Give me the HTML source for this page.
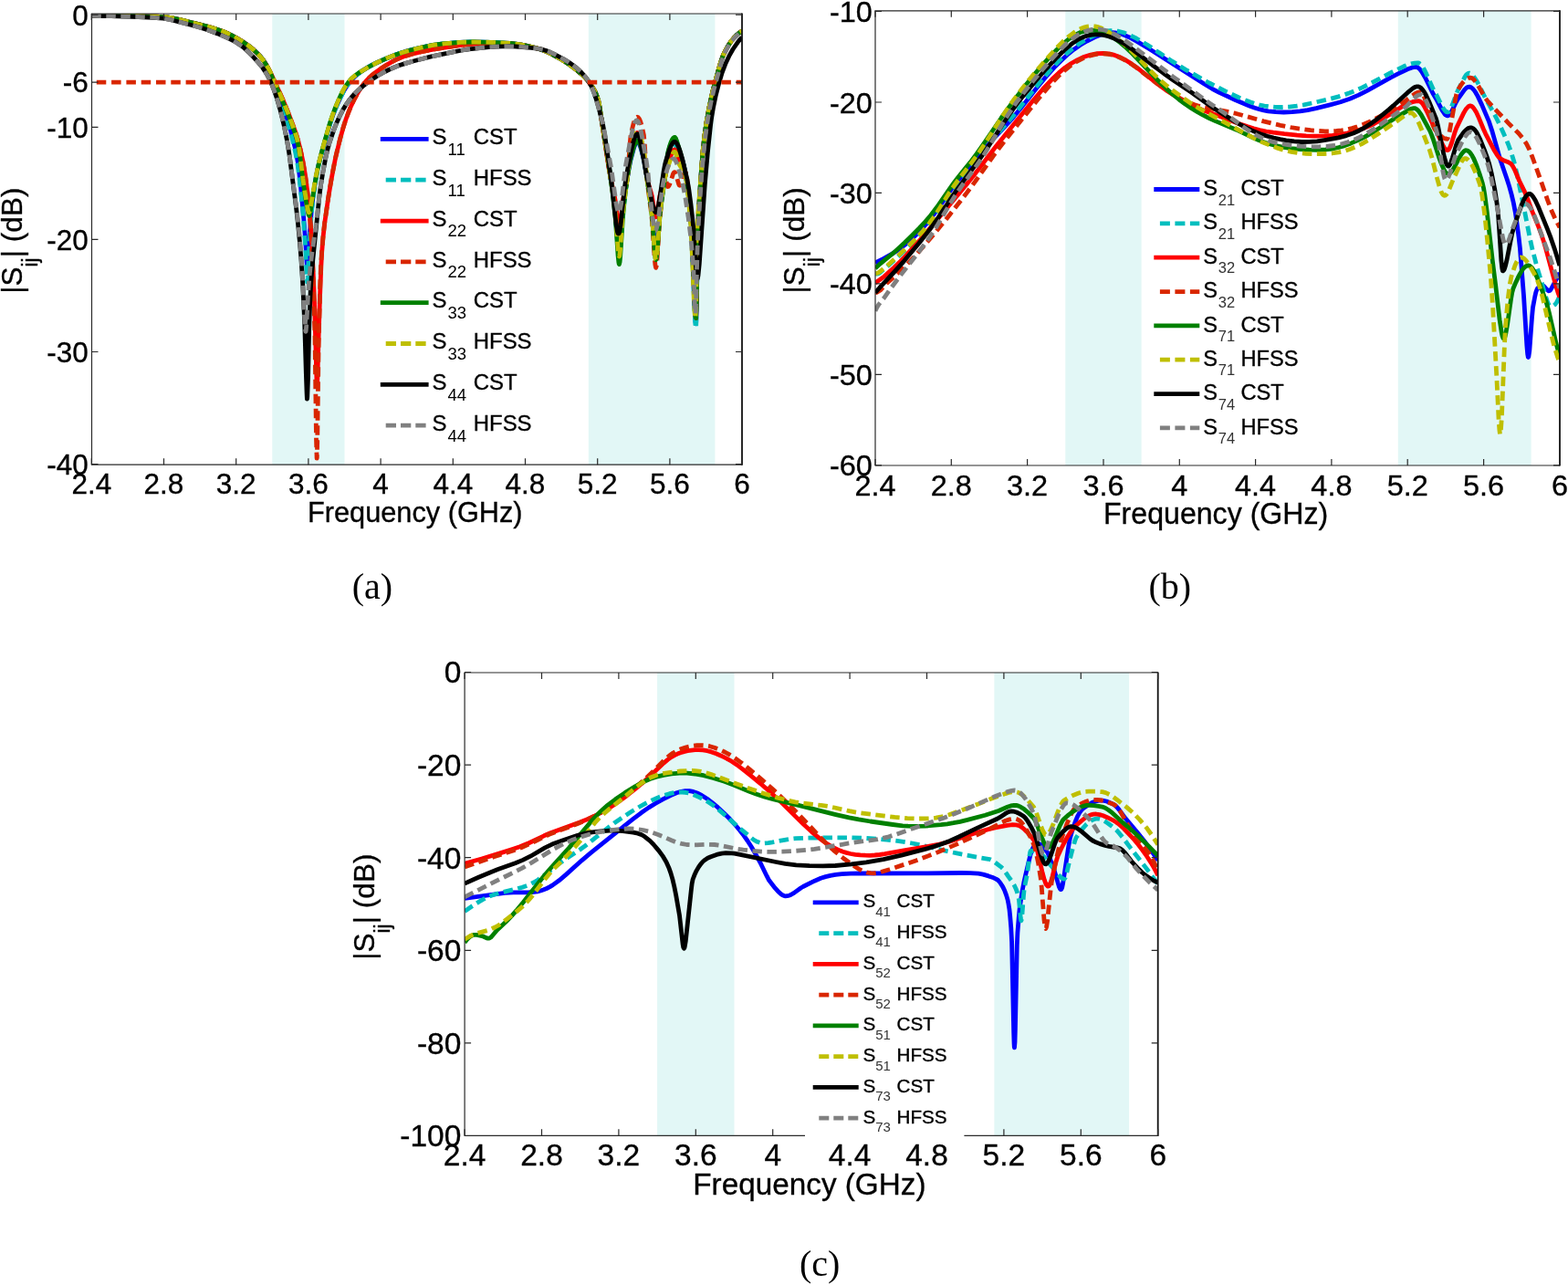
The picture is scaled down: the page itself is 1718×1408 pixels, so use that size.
<!DOCTYPE html><html><head><meta charset="utf-8"><style>html,body{margin:0;padding:0;background:#fff;width:1718px;height:1408px;overflow:hidden}svg{display:block}text{fill:#000;stroke:#000;stroke-width:0.35px}text.pl{stroke:none}</style></head><body>
<svg width="1718" height="1408" viewBox="0 0 1718 1408">
<rect width="1718" height="1408" fill="#fff"/>
<clipPath id="ca"><rect x="100.5" y="15.0" width="712.5" height="494.2"/></clipPath>
<rect x="298.3" y="15.0" width="79.2" height="494.2" fill="#E2F7F6"/>
<rect x="644.8" y="15.0" width="138.6" height="494.2" fill="#E2F7F6"/>
<g clip-path="url(#ca)" fill="none" stroke-width="4.80" stroke-linejoin="round">
<path d="M100.3,16.8 147.2,17.4 174.7,18.3 181.1,18.7 186.2,19.4 191.6,20.3 198.1,21.8 222.2,27.8 231.9,30.4 242.0,33.7 250.1,37.0 255.3,39.5 260.8,42.6 266.2,45.8 270.7,48.9 274.9,52.1 278.8,55.4 282.4,58.8 285.6,62.2 288.0,65.2 290.1,68.3 292.1,71.7 294.1,75.7 297.3,83.2 307.5,110.0 311.9,121.9 315.9,134.1 320.2,149.5 323.2,161.6 325.0,170.3 326.6,179.6 327.9,190.2 329.5,204.8 332.9,241.2 334.7,264.3 336.1,288.2 336.6,293.1 336.8,292.9 337.2,289.9 338.6,266.4 340.0,247.2 341.2,232.3 342.4,220.8 344.2,206.9 345.9,195.7 347.9,185.5 350.3,175.3 352.9,165.8 361.8,135.1 365.2,125.1 368.9,115.8 374.3,104.3 376.8,99.5 379.2,95.6 381.6,92.1 384.2,88.8 386.9,85.8 390.1,82.8 393.7,79.9 397.4,77.2 401.6,74.6 406.1,72.0 412.1,69.0 419.4,65.7 432.5,60.3 444.1,56.4 457.8,52.9 472.0,49.8 483.7,48.1 502.9,46.5 518.2,45.9 537.4,46.3 558.5,47.5 565.1,48.2 571.8,49.2 579.1,50.7 586.5,52.4 591.2,53.7 595.4,55.2 599.7,57.0 604.3,59.2 614.6,64.8 622.7,69.9 630.6,75.7 638.9,82.8 643.7,87.8 649.0,95.1 652.0,100.4 654.5,106.7 655.9,111.1 656.5,114.2 672.6,218.3 674.5,234.0 677.3,268.8 677.9,273.2 678.3,274.6 678.5,274.7 678.9,273.6 679.7,267.2 682.5,230.8 684.4,214.6 686.6,199.4 689.0,185.0 690.8,176.0 694.3,162.8 695.5,159.3 696.5,157.0 697.5,155.6 698.1,155.3 698.5,155.3 699.5,156.1 700.5,157.9 701.7,161.0 702.8,164.9 705.2,173.9 706.0,177.5 711.6,212.0 713.7,227.1 714.9,237.8 717.3,267.2 718.1,273.3 718.5,274.6 718.7,274.7 719.3,273.0 720.1,266.7 723.0,231.3 724.4,221.2 728.6,194.5 730.8,175.0 731.5,169.4 734.1,160.0 735.3,156.7 736.5,154.1 737.7,152.4 738.7,151.7 739.5,151.7 740.5,153.0 741.8,156.6 747.0,173.2 749.6,182.9 750.9,189.7 751.9,195.7 754.1,212.7 756.1,232.8 757.7,252.9 761.0,336.3 761.8,349.7 762.2,353.5 762.6,354.7 763.2,338.1 764.6,254.9 765.4,233.9 767.8,196.1 769.8,169.7 771.5,152.5 773.9,135.0 777.1,117.2 780.8,100.3 787.4,75.8 789.7,68.0 791.7,62.3 793.5,58.2 796.1,53.0 798.5,49.0 801.0,45.2 804.2,41.5 807.6,38.0 810.5,35.6 813.1,34.0" stroke="#0000FF"/>
<path d="M100.3,16.8 153.5,17.6 170.6,18.1 180.9,18.7 186.8,19.4 193.1,20.6 221.2,27.5 233.1,30.8 242.4,33.8 250.1,37.0 258.1,41.0 267.0,46.4 274.3,51.6 281.2,57.6 284.2,60.7 286.8,63.6 289.1,66.8 291.1,70.0 293.1,73.6 295.1,77.9 298.4,86.4 308.9,114.9 313.3,127.9 317.0,140.4 321.0,155.4 323.8,167.7 326.0,179.5 327.5,190.7 329.3,206.4 331.5,228.7 334.5,267.6 336.1,302.4 336.6,309.1 336.8,308.9 337.2,304.7 338.6,273.4 339.4,260.2 340.8,240.1 341.8,228.6 343.4,214.6 345.2,201.9 347.1,190.5 349.5,179.3 352.7,166.8 360.6,138.9 364.0,128.4 367.3,119.5 373.1,106.7 378.0,97.5 380.4,93.8 383.0,90.3 385.7,87.0 388.7,84.1 392.3,81.0 396.0,78.2 400.2,75.4 404.7,72.8 410.3,69.9 417.2,66.6 431.1,60.8 442.5,56.9 455.0,53.6 470.7,50.1 477.0,49.0 483.1,48.2 502.7,46.5 518.2,45.9 537.8,46.3 550.6,46.9 558.9,47.5 565.5,48.2 572.4,49.4 579.9,50.9 587.2,52.6 591.8,53.9 596.0,55.4 600.3,57.2 605.1,59.6 615.6,65.4 623.9,70.8 631.6,76.5 639.5,83.4 644.1,88.3 649.4,95.7 652.4,101.2 654.9,107.9 655.9,111.1 656.5,114.2 666.2,176.2 672.2,217.1 674.3,235.0 677.1,272.3 677.7,277.9 678.3,280.7 678.5,280.9 678.9,279.7 679.5,275.0 681.9,240.6 682.9,229.9 684.8,213.4 689.6,177.8 690.8,170.2 692.0,165.1 694.3,156.4 696.3,151.1 697.3,149.7 698.3,149.1 699.3,149.7 700.3,151.2 701.5,154.0 702.6,157.7 705.6,169.7 708.8,194.9 712.5,220.6 714.1,232.9 714.9,241.1 717.3,272.8 718.1,279.3 718.5,280.7 718.7,280.9 719.3,279.0 720.1,272.2 722.4,240.5 723.4,230.8 725.6,214.3 731.0,178.4 731.7,174.4 733.3,169.0 734.9,164.2 736.3,160.8 737.5,158.8 738.5,157.9 739.1,157.8 739.5,157.9 740.3,158.9 741.6,162.4 744.6,172.1 748.4,180.9 750.2,186.3 751.1,190.4 751.9,194.9 753.7,208.7 755.9,231.5 757.7,254.8 761.0,340.7 761.8,354.5 762.2,358.4 762.6,359.6 763.2,342.6 764.6,257.0 765.6,231.0 767.8,195.9 769.8,169.6 771.7,150.8 773.9,135.0 777.1,117.2 780.8,100.3 787.4,75.8 789.7,68.0 791.7,62.3 793.5,58.2 796.1,53.0 798.5,49.0 801.0,45.2 804.2,41.5 807.6,38.0 810.5,35.6 813.1,34.0" stroke="#00BEBE" stroke-dasharray="10.5,5.5"/>
<path d="M100.3,16.8 154.7,17.6 172.2,18.2 181.9,18.8 188.0,19.6 194.9,21.0 221.2,27.5 230.0,29.8 240.8,33.2 249.4,36.6 258.7,41.4 268.2,47.1 275.3,52.4 281.8,58.3 287.4,64.6 291.9,71.2 294.5,75.8 297.1,80.9 310.1,109.6 315.7,123.1 322.8,142.1 326.4,153.1 329.1,163.5 331.7,175.7 334.3,190.6 336.6,208.1 338.8,228.5 340.6,249.7 342.0,270.8 344.4,327.5 346.9,415.2 347.3,422.2 347.5,421.8 347.9,413.4 348.9,375.4 350.5,325.8 351.9,290.6 352.7,275.7 354.1,259.2 355.8,243.6 359.8,216.1 363.2,195.7 367.5,173.4 372.5,152.7 377.0,136.7 379.4,129.6 382.0,122.7 384.9,115.7 388.1,109.0 391.5,102.7 394.6,97.4 397.8,92.9 401.0,88.9 404.3,85.4 408.3,81.8 412.7,78.5 418.0,74.7 424.1,70.8 429.7,67.6 434.0,65.4 438.4,63.5 442.9,61.8 448.3,60.1 454.8,58.3 461.9,56.6 477.4,53.7 505.9,49.4 513.6,48.6 521.5,48.2 546.7,47.6 559.5,47.8 565.1,48.3 571.0,49.2 577.5,50.4 585.1,52.1 590.2,53.4 594.6,54.8 598.9,56.6 603.5,58.7 610.2,62.3 617.3,66.5 622.5,69.8 628.0,73.8 633.8,78.3 639.3,83.2 643.1,87.1 646.4,91.4 649.4,95.7 651.8,100.0 654.0,105.1 655.9,111.1 656.5,114.2 664.6,168.5 667.4,186.0 669.4,197.0 673.0,213.2 674.3,220.6 677.1,244.6 677.7,248.2 678.3,250.0 678.5,250.1 678.9,249.4 679.7,244.9 682.5,219.7 683.6,213.2 686.4,200.1 687.6,193.2 690.2,171.2 691.0,165.7 692.6,159.0 694.3,152.5 695.7,148.6 696.9,146.4 697.9,145.5 698.7,145.6 699.5,146.2 700.5,147.8 702.4,153.2 704.8,162.4 705.8,167.8 708.0,189.2 708.8,194.8 710.2,200.8 713.1,210.1 714.3,214.7 717.3,233.7 717.9,236.4 718.5,237.7 718.7,237.8 719.1,237.3 719.9,234.5 723.0,214.4 724.4,209.0 728.4,195.4 731.7,180.5 734.9,170.7 736.9,166.0 737.9,164.6 738.9,163.9 739.5,164.1 740.3,165.2 741.2,167.7 743.6,175.6 744.6,178.3 745.8,180.5 749.2,185.1 750.7,188.6 751.9,193.6 753.3,203.1 755.3,222.0 757.5,247.4 758.5,266.7 761.0,330.9 761.8,343.8 762.2,347.4 762.6,348.6 763.2,332.6 764.6,252.4 765.4,232.4 768.2,190.5 769.9,167.5 771.9,149.2 774.1,133.7 777.3,116.2 781.0,99.5 787.6,75.1 789.9,67.4 791.9,61.8 793.9,57.3 796.3,52.7 798.7,48.7 801.0,45.2 804.2,41.5 807.6,38.0 810.5,35.6 813.1,34.0" stroke="#FF0000"/>
<path d="M100.3,16.8 124.6,17.1 155.7,17.6 173.3,18.2 182.6,18.9 189.2,19.9 196.5,21.4 223.2,28.0 235.3,31.4 245.0,34.8 253.7,38.7 264.2,44.6 268.8,47.5 272.9,50.5 276.5,53.4 279.8,56.4 283.0,59.6 285.8,62.7 288.3,65.9 290.7,69.3 295.1,76.9 306.6,101.6 312.3,114.7 317.8,128.8 322.4,141.0 325.0,148.6 328.3,160.3 331.1,172.7 334.1,189.4 336.4,206.2 338.6,227.0 340.4,250.0 342.0,277.3 343.2,305.5 345.0,366.7 346.5,480.8 347.1,502.2 347.3,501.2 347.7,484.6 349.1,376.5 350.9,307.0 351.7,288.2 352.7,273.7 354.1,258.2 355.6,244.9 360.8,209.5 365.0,185.8 367.3,174.2 369.9,162.9 373.1,150.4 376.0,139.9 379.0,130.7 382.0,122.7 385.1,115.2 388.7,107.8 392.5,101.0 396.0,95.4 399.8,90.3 403.7,86.0 407.5,82.5 411.9,79.0 417.4,75.1 423.7,71.1 429.1,68.0 433.8,65.5 438.6,63.4 443.7,61.5 449.7,59.7 456.4,57.9 471.6,54.7 501.5,50.0 508.9,49.1 515.4,48.5 536.4,47.8 556.4,47.7 561.3,48.0 566.5,48.5 577.7,50.4 590.4,53.5 594.8,54.9 599.1,56.7 604.9,59.4 612.2,63.5 618.7,67.3 624.3,71.0 630.6,75.7 637.3,81.4 641.1,85.0 644.5,88.8 648.8,94.8 651.4,99.2 653.8,104.6 655.9,111.1 667.8,187.6 673.9,223.5 674.9,231.8 677.1,255.7 677.7,260.1 678.3,262.3 678.5,262.4 678.9,261.5 679.7,256.0 682.5,225.3 683.6,217.4 686.2,203.0 687.4,194.4 688.2,185.6 690.2,157.2 691.0,149.0 692.2,143.0 694.1,135.4 695.7,131.1 697.1,128.8 698.1,128.2 699.1,128.5 700.1,129.7 701.1,131.6 702.1,134.3 703.2,138.3 705.4,148.1 706.2,156.6 708.6,192.8 710.0,205.8 712.9,228.0 714.3,240.3 717.3,284.0 717.9,290.0 718.5,293.0 718.7,293.2 719.1,292.2 719.9,285.7 722.6,244.4 725.6,212.4 726.8,201.8 727.4,198.0 728.0,195.5 728.4,194.8 728.6,194.7 729.0,195.1 731.3,203.8 731.7,204.5 732.3,204.4 733.1,203.3 733.9,201.5 737.5,190.5 738.5,188.8 738.9,188.6 739.3,188.6 739.9,189.3 740.7,191.4 743.6,201.7 744.2,202.9 744.8,203.3 745.4,202.9 746.2,201.2 748.8,192.3 749.8,189.6 750.5,188.6 750.9,188.6 751.3,189.2 751.9,191.1 752.5,194.1 753.7,202.8 755.1,216.2 757.5,242.9 758.5,260.7 761.0,319.9 761.8,331.8 762.2,335.1 762.6,336.3 763.2,321.4 764.6,247.4 765.4,229.6 770.1,165.4 772.1,147.6 774.5,131.3 777.7,114.3 781.4,97.9 787.8,74.4 789.9,67.4 791.9,61.8 793.9,57.3 796.3,52.7 798.7,48.7 801.0,45.2 804.2,41.5 807.6,38.0 810.5,35.6 813.1,34.0" stroke="#D92600" stroke-dasharray="10.5,5.5"/>
<path d="M100.3,16.8 142.7,17.4 170.4,18.1 182.8,18.9 187.8,19.6 193.1,20.6 227.8,29.2 238.1,32.3 246.0,35.2 254.9,39.3 264.8,45.0 272.5,50.2 279.2,55.8 284.0,60.6 288.1,65.6 291.5,70.6 294.7,76.4 297.8,83.4 313.1,119.1 316.9,128.6 323.2,145.7 325.6,153.8 327.3,161.7 328.9,172.6 332.1,198.7 334.7,216.9 337.4,232.4 338.2,235.6 338.8,236.5 339.0,236.5 339.4,235.6 340.0,232.9 341.6,222.1 345.8,196.7 349.1,180.3 352.1,168.2 355.8,154.3 360.8,137.1 364.0,127.3 366.9,119.2 371.1,109.3 374.8,101.3 378.4,94.8 381.4,90.5 384.7,86.6 388.5,83.2 393.1,79.9 402.4,74.2 412.3,69.0 424.7,63.4 436.2,59.0 447.5,55.5 463.7,51.5 475.4,49.2 485.9,47.9 504.3,46.4 519.0,45.9 538.2,46.3 558.7,47.5 565.1,48.2 571.8,49.2 578.9,50.6 586.1,52.3 590.8,53.6 594.8,54.9 598.9,56.6 603.5,58.8 614.0,64.5 622.5,69.8 630.6,75.7 639.1,83.0 641.7,85.6 644.1,88.3 649.4,95.7 652.4,101.2 654.9,107.9 656.3,113.0 664.2,162.8 667.6,185.1 671.0,209.7 674.3,239.0 677.1,280.1 677.9,287.7 678.3,289.3 678.5,289.5 679.1,286.9 679.7,280.6 682.5,237.5 684.4,218.1 686.4,201.5 688.8,185.5 690.6,175.7 693.9,162.9 696.1,156.6 697.1,154.8 698.1,154.1 698.5,154.1 699.1,154.5 700.3,156.2 701.7,159.7 703.0,164.3 705.2,172.7 706.2,177.6 711.2,211.1 713.7,231.0 714.9,243.1 717.3,276.1 718.1,282.9 718.5,284.4 718.7,284.6 719.3,282.6 720.1,275.5 723.0,235.8 724.6,222.9 728.6,194.5 730.8,174.0 731.5,168.2 732.5,164.1 734.1,158.7 735.3,155.4 736.5,152.8 737.7,151.1 738.7,150.4 739.5,150.5 740.5,151.8 742.0,155.9 746.4,170.3 749.4,181.8 751.9,195.7 754.3,213.8 756.3,233.3 757.7,250.5 761.0,330.9 761.8,343.8 762.2,347.4 762.6,348.6 763.2,332.6 764.6,252.4 765.4,232.4 768.2,190.5 769.9,167.5 771.9,149.2 774.1,133.7 777.3,116.2 781.0,99.5 787.6,75.1 789.9,67.4 791.9,61.8 793.9,57.3 796.3,52.7 798.7,48.7 801.0,45.2 804.2,41.5 807.6,38.0 810.5,35.6 813.1,34.0" stroke="#008000"/>
<path d="M100.3,16.8 141.7,17.3 169.8,18.1 182.6,18.9 187.6,19.6 192.7,20.6 227.4,29.1 237.7,32.2 245.6,35.0 254.3,39.0 264.0,44.5 271.7,49.6 278.5,55.1 283.6,60.2 288.1,65.6 291.9,71.2 295.3,77.3 300.0,87.6 312.1,115.5 316.5,126.3 323.0,143.9 325.4,151.8 327.3,160.5 328.7,169.9 331.9,196.1 333.9,209.7 337.2,229.1 337.8,231.7 338.4,232.8 338.8,232.6 339.2,231.7 340.0,228.4 346.3,192.1 349.7,177.0 353.1,164.2 359.2,142.6 362.2,132.7 365.2,124.0 368.7,114.9 372.7,105.8 375.8,99.3 379.0,93.9 382.0,89.7 385.3,86.0 389.1,82.8 394.1,79.3 403.6,73.5 413.4,68.4 425.7,62.9 437.0,58.7 448.3,55.3 464.7,51.3 476.0,49.2 486.5,47.8 504.9,46.4 519.3,45.9 538.6,46.3 558.9,47.5 565.3,48.2 571.8,49.2 578.9,50.6 586.1,52.3 590.8,53.6 594.8,54.9 598.9,56.6 603.5,58.8 614.0,64.5 622.5,69.8 630.6,75.7 638.9,82.8 643.9,88.1 649.2,95.4 652.2,100.8 654.7,107.3 655.9,111.1 656.5,114.2 666.0,174.9 672.0,215.6 674.3,235.0 677.1,272.3 677.7,277.9 678.3,280.7 678.5,280.9 678.9,279.7 679.7,272.8 681.9,240.6 682.7,231.7 684.2,218.3 687.4,194.4 690.4,168.3 691.2,163.4 693.1,155.4 694.7,150.0 696.3,146.1 697.3,144.7 698.3,144.2 699.3,144.7 700.5,146.6 701.7,149.5 703.0,154.0 705.6,165.0 708.8,194.9 712.7,223.3 714.1,234.5 714.9,243.1 717.3,276.1 718.1,282.9 718.5,284.4 718.7,284.6 719.3,282.6 720.1,275.5 723.0,235.8 725.8,212.3 728.0,197.6 729.2,191.9 730.6,186.6 735.9,170.8 737.1,168.2 738.3,166.7 738.9,166.4 739.3,166.4 740.1,167.3 741.0,169.7 743.6,178.2 744.6,180.8 745.8,182.7 748.8,186.0 750.4,189.1 751.5,194.3 752.7,202.7 754.5,219.7 756.9,247.4 757.9,266.7 760.4,330.9 761.2,343.8 761.6,347.4 762.0,348.6 762.6,332.1 764.0,251.7 764.6,237.6 770.1,165.4 772.1,147.6 774.3,132.5 777.5,115.3 781.2,98.7 787.6,75.1 789.9,67.4 791.9,61.8 793.9,57.3 796.3,52.7 798.7,48.7 801.0,45.2 804.2,41.5 807.6,38.0 810.5,35.6 813.1,34.0" stroke="#BFBF00" stroke-dasharray="10.5,5.5"/>
<path d="M100.3,17.4 121.9,17.7 151.6,18.5 167.6,19.3 178.9,20.2 186.2,21.5 208.8,27.3 218.7,30.0 227.4,32.8 238.5,36.9 251.1,42.4 258.5,46.2 264.4,50.2 268.2,53.2 272.1,56.9 277.1,61.9 281.8,67.0 288.0,74.6 290.5,78.4 292.9,82.3 295.5,87.3 297.8,92.5 300.2,98.6 302.6,105.4 307.0,120.2 311.5,139.0 314.5,154.0 317.0,169.3 324.6,228.1 326.7,247.2 328.5,265.8 330.1,285.9 331.7,310.5 333.7,353.7 335.3,408.2 336.1,431.1 336.4,437.1 336.6,436.7 336.8,434.2 337.6,412.2 338.6,363.4 339.4,338.6 340.2,319.9 341.2,303.7 342.8,284.9 349.5,218.7 351.3,204.0 353.9,188.1 357.2,171.0 359.0,163.4 360.8,156.9 365.7,142.5 368.3,135.9 370.9,130.0 373.7,124.3 376.2,119.5 379.0,114.9 382.0,110.6 385.3,106.4 388.9,102.4 392.9,98.6 397.0,94.9 401.6,91.3 406.5,87.7 411.5,84.4 416.6,81.3 421.8,78.5 426.9,76.0 432.1,73.7 437.0,71.8 443.7,69.6 452.8,67.0 471.6,62.2 498.0,56.6 506.5,55.0 514.0,53.8 535.2,51.6 543.3,51.1 550.6,50.8 557.8,50.7 565.5,51.0 582.1,52.3 591.4,53.6 595.0,54.4 598.5,55.6 602.5,57.1 606.8,59.1 617.7,64.9 625.3,69.6 631.2,74.0 636.7,79.1 641.5,84.4 645.2,89.5 647.6,93.8 650.4,100.4 653.4,109.1 656.3,119.3 659.5,131.7 660.9,138.3 662.5,147.3 669.8,197.9 675.1,246.2 676.3,253.2 676.9,255.2 677.5,256.2 677.7,256.2 678.1,255.9 678.7,254.2 680.1,246.3 684.2,207.4 685.8,195.6 690.2,172.2 692.6,160.8 694.7,152.5 695.7,149.8 696.7,147.9 697.3,147.2 697.9,146.8 698.5,146.7 698.9,147.0 699.9,148.8 701.1,152.6 703.0,162.0 707.8,189.3 710.2,200.2 714.3,221.3 715.5,226.3 716.5,229.6 717.5,231.9 718.5,232.8 718.9,232.8 719.3,232.4 720.1,230.7 721.6,224.2 723.2,214.7 727.2,187.4 728.4,180.9 729.4,176.8 733.9,163.1 735.3,159.7 736.7,157.2 738.1,155.6 739.3,155.3 740.5,155.9 741.8,157.7 743.2,160.4 744.6,164.0 747.8,174.7 752.7,195.7 754.7,206.9 757.1,224.9 759.7,248.6 762.6,295.4 763.4,303.5 763.8,305.3 764.0,305.5 764.4,304.8 765.0,301.7 766.2,289.8 772.3,202.1 775.3,167.7 778.5,137.7 779.6,129.1 781.6,117.4 784.2,104.9 787.4,92.3 790.9,80.5 794.7,70.3 798.7,61.7 803.0,54.0 808.3,46.3 810.7,43.4 813.1,40.8" stroke="#000000"/>
<path d="M100.3,17.4 121.5,17.7 151.0,18.5 166.8,19.2 178.3,20.1 182.8,20.8 187.6,21.8 211.5,28.0 223.2,31.4 234.3,35.2 246.0,40.1 255.3,44.4 262.0,48.5 265.2,50.8 268.6,53.6 276.1,60.9 284.0,69.6 287.0,73.3 289.5,76.9 293.5,83.4 297.3,91.2 300.8,100.2 304.2,110.4 307.4,121.7 310.9,136.3 313.7,149.7 316.3,164.2 318.0,176.5 325.4,232.5 328.1,257.7 329.5,274.4 330.9,294.7 331.9,311.7 333.5,345.1 334.3,357.9 334.9,363.3 335.1,363.1 335.3,361.7 335.7,356.7 338.2,312.5 340.0,292.9 341.8,278.0 345.8,250.0 350.5,209.6 351.7,201.3 353.9,188.5 356.2,176.1 358.6,165.2 360.8,156.9 363.2,149.6 367.1,138.9 370.9,130.0 375.2,121.2 379.8,113.7 384.4,107.6 389.5,101.8 395.2,96.4 402.0,91.0 409.9,85.5 418.0,80.5 426.5,76.1 434.6,72.7 446.1,68.9 462.5,64.4 478.0,60.8 498.6,56.5 508.9,54.6 518.0,53.3 534.0,51.7 545.9,50.9 553.4,50.7 561.1,50.8 569.2,51.2 577.9,51.9 585.7,52.7 590.8,53.5 595.2,54.5 599.5,55.9 605.7,58.5 613.4,62.5 620.9,66.8 627.0,70.8 632.0,74.7 636.3,78.7 640.1,82.7 644.1,87.8 645.8,90.4 647.4,93.5 649.2,97.6 651.2,103.0 655.5,117.1 660.5,135.7 663.8,152.0 669.8,184.9 675.3,224.3 676.7,230.6 677.3,232.1 677.9,232.8 678.3,232.8 678.5,232.5 679.1,231.0 680.3,225.1 681.5,216.3 685.4,182.1 689.8,158.2 692.0,147.3 693.7,139.8 695.3,134.9 696.1,133.3 696.9,132.2 697.5,131.9 698.1,132.0 699.1,133.2 700.1,135.5 701.3,139.5 703.6,150.6 708.2,176.4 710.2,191.4 713.7,227.4 715.1,239.7 716.5,248.6 717.1,251.0 717.7,252.3 717.9,252.5 718.3,252.5 719.1,251.1 719.9,248.3 720.7,244.2 722.0,234.9 725.8,205.8 726.8,199.7 727.8,195.3 731.9,182.8 733.3,179.4 734.7,176.6 736.1,174.7 737.3,173.9 737.9,173.8 738.5,173.9 739.7,175.1 741.2,178.2 743.0,183.2 745.0,190.2 748.4,203.3 751.1,217.7 754.1,237.8 756.9,260.6 759.1,285.0 759.9,296.9 761.4,337.7 761.8,343.0 762.0,343.6 762.6,331.4 764.0,274.4 765.4,244.0 766.8,220.0 768.8,191.9 770.7,169.1 773.3,145.8 775.7,129.0 778.7,113.2 782.0,98.7 788.6,74.2 790.7,67.0 792.7,61.4 794.7,56.9 797.1,52.3 799.2,48.6 801.6,45.2 804.8,41.5 808.0,38.3 810.7,36.1 813.1,34.7" stroke="#808080" stroke-dasharray="10.5,5.5"/>
<path d="M105.8,90.1 H813.0" stroke="#D92600" stroke-dasharray="10.5,5.8"/>
</g>
<g stroke="#2a2a2a" stroke-width="1.2" fill="none"><path d="M100.5,15.0 H813.0 M100.5,509.2 H813.0 M100.5,14.4 V509.8"/><path d="M813.0,14.4 V509.8" stroke="#111" stroke-width="1.8"/><path d="M100.3,509.2 v-7 M100.3,15.0 v7"/><path d="M179.5,509.2 v-7 M179.5,15.0 v7"/><path d="M258.7,509.2 v-7 M258.7,15.0 v7"/><path d="M337.9,509.2 v-7 M337.9,15.0 v7"/><path d="M417.1,509.2 v-7 M417.1,15.0 v7"/><path d="M496.3,509.2 v-7 M496.3,15.0 v7"/><path d="M575.5,509.2 v-7 M575.5,15.0 v7"/><path d="M654.7,509.2 v-7 M654.7,15.0 v7"/><path d="M733.9,509.2 v-7 M733.9,15.0 v7"/><path d="M813.1,509.2 v-7 M813.1,15.0 v7"/><path d="M100.5,16.2 h7 M813.0,16.2 h-7"/><path d="M100.5,90.1 h7 M813.0,90.1 h-7"/><path d="M100.5,139.3 h7 M813.0,139.3 h-7"/><path d="M100.5,262.4 h7 M813.0,262.4 h-7"/><path d="M100.5,385.5 h7 M813.0,385.5 h-7"/><path d="M100.5,508.6 h7 M813.0,508.6 h-7"/></g>
<text x="100.3" y="540.7" font-size="31.50" text-anchor="middle" font-family="Liberation Sans, sans-serif">2.4</text>
<text x="179.5" y="540.7" font-size="31.50" text-anchor="middle" font-family="Liberation Sans, sans-serif">2.8</text>
<text x="258.7" y="540.7" font-size="31.50" text-anchor="middle" font-family="Liberation Sans, sans-serif">3.2</text>
<text x="337.9" y="540.7" font-size="31.50" text-anchor="middle" font-family="Liberation Sans, sans-serif">3.6</text>
<text x="417.1" y="540.7" font-size="31.50" text-anchor="middle" font-family="Liberation Sans, sans-serif">4</text>
<text x="496.3" y="540.7" font-size="31.50" text-anchor="middle" font-family="Liberation Sans, sans-serif">4.4</text>
<text x="575.5" y="540.7" font-size="31.50" text-anchor="middle" font-family="Liberation Sans, sans-serif">4.8</text>
<text x="654.7" y="540.7" font-size="31.50" text-anchor="middle" font-family="Liberation Sans, sans-serif">5.2</text>
<text x="733.9" y="540.7" font-size="31.50" text-anchor="middle" font-family="Liberation Sans, sans-serif">5.6</text>
<text x="813.1" y="540.7" font-size="31.50" text-anchor="middle" font-family="Liberation Sans, sans-serif">6</text>
<text x="96.8" y="27.5" font-size="31.50" text-anchor="end" font-family="Liberation Sans, sans-serif">0</text>
<text x="96.8" y="101.4" font-size="31.50" text-anchor="end" font-family="Liberation Sans, sans-serif">-6</text>
<text x="96.8" y="150.6" font-size="31.50" text-anchor="end" font-family="Liberation Sans, sans-serif">-10</text>
<text x="96.8" y="273.7" font-size="31.50" text-anchor="end" font-family="Liberation Sans, sans-serif">-20</text>
<text x="96.8" y="396.8" font-size="31.50" text-anchor="end" font-family="Liberation Sans, sans-serif">-30</text>
<text x="96.8" y="519.9" font-size="31.50" text-anchor="end" font-family="Liberation Sans, sans-serif">-40</text>
<text x="337.0" y="572.0" font-size="32.00" font-family="Liberation Sans, sans-serif" textLength="235.6" lengthAdjust="spacingAndGlyphs">Frequency (GHz)</text>
<g transform="translate(24.0,321.8) rotate(-90)"><text x="0" y="0" font-size="31.50" font-family="Liberation Sans, sans-serif">|S<tspan font-size="23.00" dy="17.0">ij</tspan><tspan dy="-17.0">|</tspan><tspan dx="0.3"> (dB)</tspan></text></g>
<path d="M416.8,152.4 H469.6" stroke="#0000FF" stroke-width="4.80" fill="none"/>
<text transform="translate(473.5,158.1) scale(1.040,1)" font-size="23.00" text-anchor="start" font-family="Liberation Sans, sans-serif">S</text>
<text x="490.5" y="169.7" font-size="18.50" text-anchor="start" font-family="Liberation Sans, sans-serif" style="stroke:none;fill:#000">11</text>
<text transform="translate(518.8,158.1) scale(1.040,1)" font-size="23.00" text-anchor="start" font-family="Liberation Sans, sans-serif">CST</text>
<path d="M422.7,197.2 H469.6" stroke="#00BEBE" stroke-width="4.80" stroke-dasharray="11.3,5" fill="none"/>
<text transform="translate(473.5,202.9) scale(1.040,1)" font-size="23.00" text-anchor="start" font-family="Liberation Sans, sans-serif">S</text>
<text x="490.5" y="214.5" font-size="18.50" text-anchor="start" font-family="Liberation Sans, sans-serif" style="stroke:none;fill:#000">11</text>
<text transform="translate(518.8,202.9) scale(1.040,1)" font-size="23.00" text-anchor="start" font-family="Liberation Sans, sans-serif">HFSS</text>
<path d="M416.8,242.1 H469.6" stroke="#FF0000" stroke-width="4.80" fill="none"/>
<text transform="translate(473.5,247.8) scale(1.040,1)" font-size="23.00" text-anchor="start" font-family="Liberation Sans, sans-serif">S</text>
<text x="490.5" y="259.4" font-size="18.50" text-anchor="start" font-family="Liberation Sans, sans-serif" style="stroke:none;fill:#000">22</text>
<text transform="translate(518.8,247.8) scale(1.040,1)" font-size="23.00" text-anchor="start" font-family="Liberation Sans, sans-serif">CST</text>
<path d="M422.7,286.9 H469.6" stroke="#D92600" stroke-width="4.80" stroke-dasharray="11.3,5" fill="none"/>
<text transform="translate(473.5,292.6) scale(1.040,1)" font-size="23.00" text-anchor="start" font-family="Liberation Sans, sans-serif">S</text>
<text x="490.5" y="304.2" font-size="18.50" text-anchor="start" font-family="Liberation Sans, sans-serif" style="stroke:none;fill:#000">22</text>
<text transform="translate(518.8,292.6) scale(1.040,1)" font-size="23.00" text-anchor="start" font-family="Liberation Sans, sans-serif">HFSS</text>
<path d="M416.8,331.7 H469.6" stroke="#008000" stroke-width="4.80" fill="none"/>
<text transform="translate(473.5,337.4) scale(1.040,1)" font-size="23.00" text-anchor="start" font-family="Liberation Sans, sans-serif">S</text>
<text x="490.5" y="349.0" font-size="18.50" text-anchor="start" font-family="Liberation Sans, sans-serif" style="stroke:none;fill:#000">33</text>
<text transform="translate(518.8,337.4) scale(1.040,1)" font-size="23.00" text-anchor="start" font-family="Liberation Sans, sans-serif">CST</text>
<path d="M422.7,376.5 H469.6" stroke="#BFBF00" stroke-width="4.80" stroke-dasharray="11.3,5" fill="none"/>
<text transform="translate(473.5,382.2) scale(1.040,1)" font-size="23.00" text-anchor="start" font-family="Liberation Sans, sans-serif">S</text>
<text x="490.5" y="393.8" font-size="18.50" text-anchor="start" font-family="Liberation Sans, sans-serif" style="stroke:none;fill:#000">33</text>
<text transform="translate(518.8,382.2) scale(1.040,1)" font-size="23.00" text-anchor="start" font-family="Liberation Sans, sans-serif">HFSS</text>
<path d="M416.8,421.4 H469.6" stroke="#000000" stroke-width="4.80" fill="none"/>
<text transform="translate(473.5,427.1) scale(1.040,1)" font-size="23.00" text-anchor="start" font-family="Liberation Sans, sans-serif">S</text>
<text x="490.5" y="438.7" font-size="18.50" text-anchor="start" font-family="Liberation Sans, sans-serif" style="stroke:none;fill:#000">44</text>
<text transform="translate(518.8,427.1) scale(1.040,1)" font-size="23.00" text-anchor="start" font-family="Liberation Sans, sans-serif">CST</text>
<path d="M422.7,466.2 H469.6" stroke="#808080" stroke-width="4.80" stroke-dasharray="11.3,5" fill="none"/>
<text transform="translate(473.5,471.9) scale(1.040,1)" font-size="23.00" text-anchor="start" font-family="Liberation Sans, sans-serif">S</text>
<text x="490.5" y="483.5" font-size="18.50" text-anchor="start" font-family="Liberation Sans, sans-serif" style="stroke:none;fill:#000">44</text>
<text transform="translate(518.8,471.9) scale(1.040,1)" font-size="23.00" text-anchor="start" font-family="Liberation Sans, sans-serif">HFSS</text>
<text x="408.0" y="656.0" font-size="40.00" text-anchor="middle" font-family="Liberation Serif, sans-serif" class="pl">(a)</text>
<clipPath id="cb"><rect x="959.0" y="11.8" width="750.0" height="498.2"/></clipPath>
<rect x="1167.3" y="11.8" width="83.3" height="498.2" fill="#E2F7F6"/>
<rect x="1531.8" y="11.8" width="145.8" height="498.2" fill="#E2F7F6"/>
<g clip-path="url(#cb)" fill="none" stroke-width="4.80" stroke-linejoin="round">
<path d="M959.0,288.0 967.7,283.6 978.8,277.3 982.1,275.2 987.5,271.4 992.9,267.1 998.8,262.0 1005.0,256.0 1011.3,249.4 1017.5,242.3 1023.1,235.1 1028.3,227.9 1041.5,208.6 1045.6,202.9 1050.0,197.4 1065.6,179.3 1084.8,156.2 1090.8,149.5 1103.9,135.6 1111.0,127.6 1117.9,119.2 1135.8,96.5 1146.2,83.9 1154.7,74.4 1162.5,66.5 1169.5,60.0 1176.6,54.2 1183.7,49.3 1191.0,45.0 1199.3,40.8 1207.0,37.8 1213.3,36.2 1216.2,35.8 1219.1,35.7 1221.8,35.9 1224.5,36.3 1230.3,37.9 1237.0,40.7 1245.3,45.1 1259.5,53.7 1292.0,74.6 1319.9,92.3 1328.2,97.3 1335.9,101.4 1354.0,109.8 1369.4,116.3 1374.9,118.2 1379.9,119.7 1384.6,120.9 1389.6,121.8 1397.8,122.7 1406.5,123.0 1415.7,122.7 1424.4,121.9 1432.8,120.6 1442.1,118.6 1457.3,114.8 1468.8,111.7 1479.0,108.2 1488.6,104.1 1497.9,99.4 1519.4,87.3 1531.7,80.9 1542.3,75.8 1546.7,74.2 1550.0,73.5 1552.1,73.4 1553.9,74.3 1555.8,76.0 1557.9,78.7 1561.7,85.3 1569.8,102.0 1574.4,109.9 1580.0,120.7 1582.7,124.8 1583.9,126.0 1585.2,126.7 1586.2,126.9 1587.1,126.5 1588.1,125.7 1589.1,124.4 1591.2,120.7 1595.2,112.3 1597.1,108.8 1604.6,98.4 1606.6,96.3 1608.3,95.3 1610.0,95.1 1611.6,95.6 1613.3,96.9 1615.2,99.0 1617.0,101.7 1619.1,105.4 1623.5,114.6 1631.2,132.6 1635.0,144.1 1643.9,175.3 1651.2,196.5 1653.7,204.4 1656.2,213.4 1658.3,222.3 1660.2,232.2 1662.0,244.3 1664.1,260.2 1665.4,271.9 1669.5,323.7 1672.9,379.0 1673.7,388.0 1674.3,391.2 1674.5,391.4 1674.9,390.5 1675.8,384.5 1678.5,347.9 1679.5,337.0 1681.8,324.6 1682.8,320.3 1683.7,317.7 1684.5,316.1 1686.4,314.4 1688.3,313.2 1690.1,312.8 1691.0,313.1 1691.8,313.7 1694.9,317.3 1696.0,318.3 1697.0,318.8 1698.1,318.5 1698.9,317.6 1699.9,315.9 1705.5,305.7 1708.9,298.9" stroke="#0000FF"/>
<path d="M959.0,299.9 960.0,300.1 961.3,300.1 962.3,299.9 963.4,299.4 973.4,290.9 986.1,279.3 996.3,269.6 1005.4,260.4 1012.5,252.6 1018.1,245.7 1023.3,238.5 1028.3,230.9 1041.0,210.6 1045.4,204.2 1049.8,198.4 1067.7,177.4 1087.3,153.3 1110.6,126.4 1133.7,97.2 1142.5,86.4 1151.0,76.6 1158.9,68.1 1166.8,60.4 1174.7,53.7 1182.4,48.0 1190.1,43.2 1198.9,38.8 1207.0,35.6 1210.6,34.6 1213.7,34.0 1216.8,33.6 1219.9,33.6 1225.3,34.2 1231.2,35.8 1237.8,38.4 1245.3,42.2 1256.8,49.0 1284.7,67.4 1299.1,76.4 1325.1,91.0 1342.0,99.7 1357.6,107.0 1369.7,111.8 1375.1,113.6 1380.3,115.0 1385.3,116.0 1390.5,116.8 1397.6,117.4 1404.8,117.5 1412.6,117.1 1420.7,116.1 1428.6,114.8 1438.2,112.8 1456.7,108.5 1466.5,105.9 1472.5,104.0 1478.8,101.8 1485.2,99.2 1492.1,96.1 1503.1,90.7 1522.9,80.2 1537.9,72.8 1542.3,71.0 1546.2,69.9 1550.2,69.1 1553.5,68.9 1554.8,69.2 1556.2,70.2 1557.7,71.8 1559.4,74.3 1562.7,80.7 1570.2,97.5 1574.4,105.1 1580.2,116.8 1581.9,119.6 1583.5,121.6 1585.0,122.7 1586.2,122.9 1587.1,122.5 1587.9,121.7 1589.6,118.9 1591.4,114.5 1597.1,99.5 1604.8,84.6 1606.6,81.9 1608.3,80.5 1609.8,80.1 1611.6,80.8 1613.1,81.9 1614.5,83.5 1617.9,88.5 1620.6,93.6 1627.7,108.0 1635.2,121.2 1639.7,129.7 1643.5,137.4 1649.3,150.3 1652.7,158.5 1655.8,167.1 1658.9,177.3 1662.0,190.3 1669.5,226.5 1676.2,260.7 1679.1,273.8 1684.5,294.3 1689.1,309.3 1693.5,324.7 1695.6,330.9 1697.0,333.9 1698.3,335.4 1698.9,335.7 1699.9,335.7 1702.0,335.0 1703.9,333.6 1705.5,331.4 1707.2,328.2 1708.9,323.8" stroke="#00BEBE" stroke-dasharray="10.5,5.5"/>
<path d="M959.0,309.9 963.6,306.8 968.6,303.1 979.4,293.3 986.7,286.2 992.7,279.9 1006.9,264.2 1019.8,249.1 1058.3,203.0 1067.5,191.4 1091.9,159.5 1130.8,111.5 1142.7,97.5 1152.7,86.8 1160.0,79.9 1166.8,74.2 1173.7,69.5 1180.6,65.6 1187.9,62.3 1195.1,60.0 1202.2,58.7 1208.9,58.3 1215.1,58.9 1221.2,60.4 1227.4,62.8 1233.9,66.2 1239.3,69.6 1245.1,73.7 1268.2,91.9 1279.5,100.1 1286.4,104.5 1293.9,109.0 1301.6,113.2 1308.6,116.8 1318.2,120.8 1335.3,126.9 1356.7,135.2 1366.5,138.6 1373.6,140.8 1380.3,142.5 1387.4,144.0 1395.1,145.2 1407.1,146.7 1421.3,148.1 1431.1,148.8 1440.7,149.1 1450.9,148.9 1459.8,148.4 1468.2,147.4 1476.3,145.9 1482.7,144.4 1488.8,142.6 1494.4,140.6 1499.8,138.4 1505.8,135.5 1512.3,131.8 1526.5,123.1 1535.4,117.3 1539.2,115.2 1542.3,113.6 1547.7,111.7 1551.4,110.9 1554.8,110.7 1556.0,111.1 1557.5,112.3 1558.9,114.0 1560.6,116.6 1563.5,122.3 1570.2,137.1 1574.6,145.5 1580.8,159.1 1582.3,161.6 1583.5,163.2 1584.8,164.3 1586.0,164.7 1586.6,164.4 1587.5,163.6 1588.9,160.9 1590.6,156.4 1594.1,144.8 1595.8,140.1 1603.9,123.4 1606.4,119.3 1608.5,117.0 1609.5,116.3 1610.4,116.0 1611.2,115.9 1612.3,116.3 1613.3,117.0 1614.5,118.3 1617.3,122.6 1619.8,127.9 1625.4,141.5 1627.7,146.6 1636.6,163.7 1640.0,169.3 1642.2,172.3 1644.5,174.2 1646.8,175.4 1652.7,177.7 1655.6,179.6 1657.4,181.9 1659.5,185.9 1664.7,198.2 1669.9,208.8 1672.4,214.4 1678.9,231.9 1685.8,248.7 1688.7,256.5 1691.0,263.4 1693.5,271.9 1704.3,311.7 1706.8,319.9 1708.9,325.8" stroke="#FF0000"/>
<path d="M959.0,320.8 960.2,320.5 961.7,319.8 965.0,317.7 972.1,309.9 981.7,301.4 990.2,293.2 997.3,286.0 1004.6,278.2 1020.6,259.8 1037.5,239.2 1057.9,213.1 1068.3,199.1 1088.7,170.3 1101.6,153.3 1138.1,107.8 1147.3,96.9 1154.7,88.5 1161.2,81.9 1167.2,76.5 1173.3,71.7 1179.3,67.7 1185.6,64.4 1191.8,61.8 1197.9,60.1 1203.9,59.1 1207.4,58.9 1210.8,59.0 1214.3,59.3 1217.6,59.9 1221.0,60.8 1224.3,61.9 1231.2,65.1 1237.0,68.5 1243.3,72.7 1268.2,91.9 1274.5,96.4 1280.5,100.4 1287.8,104.9 1295.1,108.9 1302.0,112.1 1308.2,114.6 1313.6,116.2 1319.5,117.7 1344.0,122.2 1353.6,124.2 1361.1,126.2 1384.4,132.9 1393.6,135.2 1403.0,137.3 1414.0,139.5 1425.3,141.3 1435.9,142.7 1445.2,143.5 1451.9,143.8 1458.4,143.8 1464.4,143.5 1470.0,142.8 1475.6,141.9 1481.3,140.5 1487.1,138.8 1492.9,136.7 1502.9,132.4 1513.5,126.8 1523.1,121.1 1539.8,110.6 1547.5,104.7 1550.4,102.7 1553.5,101.2 1555.0,100.8 1556.4,100.7 1557.5,101.1 1558.5,102.3 1559.6,104.2 1560.8,107.2 1563.1,114.2 1568.5,132.9 1570.2,137.6 1571.6,140.8 1572.5,142.1 1575.8,145.9 1579.8,149.8 1581.4,151.0 1582.9,151.8 1584.4,152.2 1585.6,152.3 1586.0,151.8 1586.6,150.4 1587.9,145.7 1595.0,107.0 1595.8,103.1 1596.6,100.4 1598.7,96.5 1600.8,93.1 1602.9,90.3 1604.8,88.2 1606.8,86.5 1608.7,85.5 1610.6,85.1 1612.3,85.3 1613.3,85.9 1614.5,86.9 1617.3,90.2 1619.8,94.1 1626.2,105.5 1629.3,110.0 1637.5,119.0 1652.9,135.1 1664.1,146.3 1668.5,151.6 1672.4,157.4 1675.6,163.7 1679.1,172.5 1687.8,196.6 1695.6,219.2 1699.1,228.8 1703.9,239.6 1708.9,249.2" stroke="#D92600" stroke-dasharray="10.5,5.5"/>
<path d="M959.0,293.9 964.6,288.8 978.6,277.4 991.1,266.0 999.6,257.7 1007.5,249.7 1013.4,243.4 1018.6,237.4 1026.7,226.8 1039.8,207.8 1045.4,200.0 1050.6,193.3 1062.9,178.1 1070.0,168.7 1076.9,158.9 1096.9,129.5 1111.2,109.7 1121.6,96.1 1131.4,83.9 1140.4,73.4 1149.3,63.4 1157.9,54.5 1165.2,47.6 1171.4,42.5 1177.2,38.6 1182.9,35.8 1185.8,34.8 1188.7,34.1 1191.6,33.6 1194.7,33.4 1197.6,33.4 1200.8,33.7 1204.1,34.3 1207.4,35.2 1210.6,36.3 1213.9,37.7 1217.2,39.5 1220.6,41.6 1227.6,46.9 1233.9,52.3 1241.0,59.0 1266.8,86.2 1278.4,97.6 1285.1,103.5 1291.8,109.0 1298.6,114.1 1305.5,118.7 1311.6,122.4 1317.8,125.9 1324.9,129.5 1332.2,132.9 1354.7,142.2 1372.8,150.8 1379.6,153.8 1388.0,156.9 1396.5,159.3 1405.1,161.1 1414.8,162.6 1424.8,163.7 1434.6,164.2 1444.0,164.3 1452.5,163.9 1460.0,163.0 1466.9,161.5 1473.4,159.6 1480.4,156.9 1488.1,153.6 1495.6,149.8 1505.2,144.3 1528.5,129.4 1544.4,120.1 1546.9,119.1 1549.0,118.6 1550.4,118.7 1552.1,119.6 1554.4,121.8 1557.1,125.7 1566.7,143.3 1568.3,147.2 1570.2,152.3 1576.6,172.3 1579.4,179.9 1582.1,186.0 1583.3,188.0 1584.6,189.5 1586.0,190.4 1587.3,190.4 1588.7,189.7 1590.2,188.3 1591.6,186.4 1593.3,183.6 1598.9,172.9 1601.2,169.0 1603.7,166.0 1604.8,165.2 1605.8,164.7 1607.3,164.8 1608.7,165.5 1610.2,166.7 1611.6,168.5 1613.1,170.8 1614.8,174.0 1618.1,182.0 1621.0,190.2 1624.3,200.8 1625.6,206.3 1626.8,213.6 1629.3,232.5 1635.2,284.8 1638.7,312.7 1643.1,350.4 1645.2,364.2 1646.0,367.9 1646.8,370.2 1647.2,370.8 1647.7,371.0 1648.3,370.5 1649.1,368.5 1649.9,365.1 1651.6,355.3 1655.8,326.0 1656.8,320.3 1657.9,316.3 1660.8,309.4 1663.3,303.9 1665.6,299.6 1667.6,296.2 1669.7,293.6 1671.8,291.8 1673.7,291.0 1674.7,291.0 1675.6,291.1 1677.2,292.2 1678.9,294.0 1680.8,296.9 1682.6,300.6 1686.6,310.1 1693.7,329.5 1695.3,335.0 1697.2,342.1 1705.1,376.5 1708.9,390.4" stroke="#008000"/>
<path d="M959.0,299.9 962.1,299.0 964.6,297.3 972.5,290.7 985.2,279.1 995.4,269.4 1004.2,260.7 1011.1,253.3 1016.9,246.4 1021.5,240.3 1026.1,233.7 1040.2,211.1 1046.3,202.1 1051.9,194.5 1065.4,177.2 1073.3,166.2 1080.4,155.5 1097.9,127.9 1108.5,112.4 1117.3,100.5 1127.3,87.7 1137.3,75.6 1147.5,63.8 1156.6,53.7 1164.3,45.9 1170.8,40.1 1176.8,35.6 1179.9,33.6 1182.9,32.0 1185.8,30.8 1188.5,29.8 1191.4,29.1 1194.1,28.8 1196.8,28.7 1199.5,28.9 1202.2,29.4 1204.9,30.2 1207.6,31.3 1210.6,32.7 1217.0,36.8 1224.9,42.7 1232.0,48.7 1238.9,55.0 1245.1,61.4 1261.4,78.5 1266.6,83.6 1271.6,88.2 1278.4,94.0 1286.8,100.4 1296.4,107.4 1305.1,113.4 1312.8,118.2 1320.7,122.7 1343.0,134.6 1363.6,146.0 1373.0,150.9 1381.9,155.2 1390.7,158.9 1399.2,162.1 1407.1,164.5 1414.8,166.3 1422.5,167.6 1430.7,168.3 1440.0,168.7 1450.5,168.5 1459.2,168.0 1466.7,166.9 1473.8,165.3 1479.6,163.3 1485.4,160.9 1491.7,157.8 1498.8,153.7 1508.8,147.5 1528.1,134.4 1542.3,124.3 1544.0,123.8 1545.4,123.6 1546.5,123.7 1547.7,124.4 1549.2,125.7 1550.8,127.9 1552.5,130.7 1554.2,134.0 1557.5,141.7 1566.0,163.4 1568.9,172.8 1574.6,195.3 1576.9,203.6 1579.1,210.1 1580.2,212.2 1581.2,213.6 1582.3,214.3 1583.3,214.2 1584.6,213.3 1585.8,211.5 1587.9,207.2 1592.9,194.9 1595.8,189.1 1600.2,179.5 1601.4,177.1 1602.7,175.3 1603.7,174.2 1604.8,173.7 1605.6,173.6 1606.6,173.9 1608.5,175.1 1610.4,177.1 1612.5,180.2 1614.5,184.2 1616.8,189.4 1619.5,196.4 1621.6,202.6 1622.9,208.1 1624.1,215.3 1626.8,235.9 1629.7,264.0 1633.5,305.6 1635.6,336.5 1639.7,410.3 1642.2,462.2 1642.9,471.1 1643.5,475.7 1643.7,475.9 1643.9,475.5 1644.3,472.8 1645.4,456.9 1648.3,381.8 1649.3,360.2 1650.6,344.9 1652.2,327.7 1654.1,312.5 1655.8,303.6 1657.9,296.8 1659.9,290.9 1661.8,286.7 1663.7,283.7 1665.4,282.3 1666.2,282.0 1667.2,282.1 1668.3,282.4 1669.5,283.1 1672.0,285.5 1674.5,288.7 1677.4,293.4 1682.8,303.3 1684.5,307.0 1687.2,315.0 1690.1,325.6 1699.5,365.9 1702.8,379.2 1706.2,390.1 1707.6,393.9 1708.9,396.4" stroke="#BFBF00" stroke-dasharray="10.5,5.5"/>
<path d="M959.0,320.8 963.8,315.2 979.8,298.0 990.7,285.8 1006.9,266.5 1017.9,252.6 1026.9,240.1 1041.5,218.0 1047.7,208.9 1068.3,181.2 1076.7,169.5 1084.4,158.1 1099.8,134.3 1107.5,123.0 1112.9,115.6 1118.9,107.8 1134.5,88.9 1146.2,75.5 1156.6,64.3 1165.8,55.3 1173.5,48.7 1176.8,46.2 1180.2,44.0 1183.5,42.1 1186.6,40.7 1189.7,39.6 1193.1,38.7 1196.4,38.1 1199.7,37.8 1203.5,37.9 1207.2,38.2 1211.2,39.0 1215.1,40.0 1219.1,41.4 1223.1,43.2 1227.2,45.3 1231.4,47.7 1236.0,50.7 1241.2,54.5 1262.6,71.2 1276.2,81.2 1285.3,87.7 1305.1,101.0 1325.7,115.8 1332.4,120.3 1340.5,125.4 1352.2,132.6 1360.1,137.2 1365.9,140.2 1371.5,142.9 1377.2,145.3 1382.8,147.4 1388.8,149.2 1395.5,151.0 1402.6,152.6 1409.2,153.8 1418.0,154.9 1426.3,155.5 1434.4,155.4 1443.0,154.8 1454.0,153.2 1466.5,150.8 1475.2,148.6 1482.7,146.0 1489.0,143.2 1495.2,139.8 1501.9,135.5 1509.0,130.4 1515.0,125.7 1521.7,120.1 1529.2,113.5 1542.3,101.4 1547.7,97.0 1550.0,95.6 1551.9,94.9 1553.7,94.8 1555.2,95.2 1556.9,96.3 1558.5,98.1 1560.4,100.7 1562.3,104.0 1566.4,112.8 1573.1,129.1 1574.4,133.2 1575.8,139.4 1580.6,163.6 1582.5,172.2 1584.4,178.6 1585.2,180.5 1586.0,181.7 1586.9,182.1 1587.7,181.7 1588.5,180.6 1589.6,178.5 1591.4,173.0 1595.6,158.6 1597.7,153.3 1602.9,146.1 1605.0,143.7 1606.8,141.9 1608.7,140.6 1610.6,139.9 1612.3,139.9 1613.9,140.6 1615.6,142.1 1617.5,144.5 1619.3,147.7 1621.4,152.0 1626.4,164.4 1629.7,173.4 1631.4,178.7 1634.5,191.1 1637.7,207.2 1639.7,220.2 1641.2,231.1 1642.2,244.4 1644.9,285.8 1645.8,293.9 1646.4,296.8 1646.6,296.9 1647.0,296.8 1647.9,295.7 1648.7,293.8 1649.5,291.1 1651.2,283.9 1655.2,263.2 1657.0,254.7 1664.3,232.3 1667.6,223.3 1670.4,217.5 1671.6,215.4 1672.9,213.9 1674.1,212.8 1675.4,212.4 1676.4,212.5 1677.4,213.0 1678.5,213.9 1679.7,215.4 1682.2,219.5 1685.1,225.7 1695.3,250.7 1698.5,258.9 1703.5,273.4 1708.9,291.0" stroke="#000000"/>
<path d="M959.0,340.7 960.9,336.7 962.7,333.7 968.0,327.3 977.1,314.5 987.7,300.4 1009.6,272.3 1019.0,259.3 1026.7,247.4 1040.4,224.1 1046.7,214.1 1053.1,204.6 1067.9,184.5 1075.2,174.0 1083.7,160.6 1098.7,135.1 1105.4,124.3 1113.5,112.4 1123.3,99.4 1137.7,81.6 1150.2,66.9 1161.0,55.2 1165.8,50.4 1170.2,46.4 1174.1,43.1 1178.1,40.2 1181.8,37.8 1185.6,35.8 1189.3,34.2 1193.1,33.1 1196.8,32.3 1200.6,31.9 1203.7,32.0 1206.8,32.3 1209.9,33.0 1213.1,33.9 1216.4,35.2 1219.9,36.9 1227.6,41.2 1234.1,45.5 1241.8,51.0 1263.0,66.9 1285.3,84.1 1305.7,98.7 1320.5,109.7 1327.0,114.2 1342.8,124.7 1360.3,137.6 1367.4,142.6 1376.1,147.9 1384.2,151.8 1392.6,154.8 1402.1,157.2 1412.3,158.9 1423.4,160.2 1433.8,160.8 1444.2,160.9 1453.4,160.5 1461.5,159.5 1469.2,158.0 1476.7,155.8 1483.4,153.2 1490.0,150.1 1496.9,146.5 1504.4,141.9 1515.0,134.8 1539.8,117.4 1542.7,114.7 1549.2,107.9 1552.1,105.4 1553.7,104.4 1555.4,103.8 1556.7,103.7 1557.9,104.1 1559.4,105.3 1561.0,107.6 1562.7,110.6 1564.4,114.4 1568.1,124.7 1573.7,142.6 1574.8,147.3 1575.8,153.2 1580.8,187.0 1582.3,193.9 1582.9,195.9 1583.5,197.1 1584.1,197.5 1585.2,197.0 1586.0,196.0 1587.1,194.0 1589.1,188.5 1593.5,174.1 1595.4,168.8 1601.8,155.7 1604.8,150.4 1607.5,146.8 1608.7,145.6 1609.8,145.0 1610.8,144.8 1612.0,144.9 1613.3,145.5 1614.5,146.5 1616.2,148.4 1617.9,150.9 1621.4,157.8 1626.4,169.9 1629.5,178.2 1630.8,182.2 1633.5,193.6 1640.8,229.3 1646.0,257.9 1647.4,264.0 1648.7,267.2 1649.5,268.1 1650.4,267.9 1651.4,266.7 1652.7,264.3 1654.3,259.8 1657.7,249.5 1660.4,242.4 1663.7,232.8 1665.1,229.0 1666.4,226.5 1667.9,224.6 1670.1,223.5 1672.0,223.4 1672.9,223.7 1673.9,224.4 1676.0,226.6 1678.3,230.3 1680.8,235.5 1683.5,242.2 1698.5,282.7 1703.5,297.9 1708.9,315.8" stroke="#808080" stroke-dasharray="10.5,5.5"/>
</g>
<g stroke="#2a2a2a" stroke-width="1.2" fill="none"><path d="M959.0,11.8 H1709.0 M959.0,510.0 H1709.0 M959.0,11.2 V510.6"/><path d="M1709.0,11.2 V510.6" stroke="#111" stroke-width="1.8"/><path d="M959.0,510.0 v-7 M959.0,11.8 v7"/><path d="M1042.3,510.0 v-7 M1042.3,11.8 v7"/><path d="M1125.6,510.0 v-7 M1125.6,11.8 v7"/><path d="M1209.0,510.0 v-7 M1209.0,11.8 v7"/><path d="M1292.3,510.0 v-7 M1292.3,11.8 v7"/><path d="M1375.6,510.0 v-7 M1375.6,11.8 v7"/><path d="M1458.9,510.0 v-7 M1458.9,11.8 v7"/><path d="M1542.2,510.0 v-7 M1542.2,11.8 v7"/><path d="M1625.6,510.0 v-7 M1625.6,11.8 v7"/><path d="M1708.9,510.0 v-7 M1708.9,11.8 v7"/><path d="M959.0,12.5 h7 M1709.0,12.5 h-7"/><path d="M959.0,112.0 h7 M1709.0,112.0 h-7"/><path d="M959.0,211.4 h7 M1709.0,211.4 h-7"/><path d="M959.0,310.9 h7 M1709.0,310.9 h-7"/><path d="M959.0,410.3 h7 M1709.0,410.3 h-7"/><path d="M959.0,509.8 h7 M1709.0,509.8 h-7"/></g>
<text transform="translate(959.0,542.6) scale(1.030,1)" font-size="31.50" text-anchor="middle" font-family="Liberation Sans, sans-serif">2.4</text>
<text transform="translate(1042.3,542.6) scale(1.030,1)" font-size="31.50" text-anchor="middle" font-family="Liberation Sans, sans-serif">2.8</text>
<text transform="translate(1125.6,542.6) scale(1.030,1)" font-size="31.50" text-anchor="middle" font-family="Liberation Sans, sans-serif">3.2</text>
<text transform="translate(1209.0,542.6) scale(1.030,1)" font-size="31.50" text-anchor="middle" font-family="Liberation Sans, sans-serif">3.6</text>
<text transform="translate(1292.3,542.6) scale(1.030,1)" font-size="31.50" text-anchor="middle" font-family="Liberation Sans, sans-serif">4</text>
<text transform="translate(1375.6,542.6) scale(1.030,1)" font-size="31.50" text-anchor="middle" font-family="Liberation Sans, sans-serif">4.4</text>
<text transform="translate(1458.9,542.6) scale(1.030,1)" font-size="31.50" text-anchor="middle" font-family="Liberation Sans, sans-serif">4.8</text>
<text transform="translate(1542.2,542.6) scale(1.030,1)" font-size="31.50" text-anchor="middle" font-family="Liberation Sans, sans-serif">5.2</text>
<text transform="translate(1625.6,542.6) scale(1.030,1)" font-size="31.50" text-anchor="middle" font-family="Liberation Sans, sans-serif">5.6</text>
<text transform="translate(1708.9,542.6) scale(1.030,1)" font-size="31.50" text-anchor="middle" font-family="Liberation Sans, sans-serif">6</text>
<text transform="translate(955.8,24.0) scale(1.030,1)" font-size="31.50" text-anchor="end" font-family="Liberation Sans, sans-serif">-10</text>
<text transform="translate(955.8,123.5) scale(1.030,1)" font-size="31.50" text-anchor="end" font-family="Liberation Sans, sans-serif">-20</text>
<text transform="translate(955.8,222.9) scale(1.030,1)" font-size="31.50" text-anchor="end" font-family="Liberation Sans, sans-serif">-30</text>
<text transform="translate(955.8,322.4) scale(1.030,1)" font-size="31.50" text-anchor="end" font-family="Liberation Sans, sans-serif">-40</text>
<text transform="translate(955.8,421.8) scale(1.030,1)" font-size="31.50" text-anchor="end" font-family="Liberation Sans, sans-serif">-50</text>
<text transform="translate(955.8,521.2) scale(1.030,1)" font-size="31.50" text-anchor="end" font-family="Liberation Sans, sans-serif">-60</text>
<text x="1209.0" y="573.8" font-size="32.50" font-family="Liberation Sans, sans-serif" textLength="246.3" lengthAdjust="spacingAndGlyphs">Frequency (GHz)</text>
<g transform="translate(880.5,321.4) rotate(-90)"><text x="0" y="0" font-size="31.50" font-family="Liberation Sans, sans-serif">|S<tspan font-size="23.00" dy="17.0">ij</tspan><tspan dy="-17.0">|</tspan><tspan dx="0.3"> (dB)</tspan></text></g>
<path d="M1264.3,207.5 H1314.3" stroke="#0000FF" stroke-width="4.80" fill="none"/>
<text transform="translate(1318.3,214.1) scale(1.030,1)" font-size="23.00" text-anchor="start" font-family="Liberation Sans, sans-serif">S</text>
<text x="1334.8" y="224.6" font-size="16.50" text-anchor="start" font-family="Liberation Sans, sans-serif" style="stroke:none;fill:#333">21</text>
<text transform="translate(1359.4,214.1) scale(1.030,1)" font-size="23.00" text-anchor="start" font-family="Liberation Sans, sans-serif">CST</text>
<path d="M1270.9,244.8 H1314.3" stroke="#00BEBE" stroke-width="4.80" stroke-dasharray="11,5.5" fill="none"/>
<text transform="translate(1318.3,251.4) scale(1.030,1)" font-size="23.00" text-anchor="start" font-family="Liberation Sans, sans-serif">S</text>
<text x="1334.8" y="261.9" font-size="16.50" text-anchor="start" font-family="Liberation Sans, sans-serif" style="stroke:none;fill:#333">21</text>
<text transform="translate(1359.4,251.4) scale(1.030,1)" font-size="23.00" text-anchor="start" font-family="Liberation Sans, sans-serif">HFSS</text>
<path d="M1264.3,282.2 H1314.3" stroke="#FF0000" stroke-width="4.80" fill="none"/>
<text transform="translate(1318.3,288.8) scale(1.030,1)" font-size="23.00" text-anchor="start" font-family="Liberation Sans, sans-serif">S</text>
<text x="1334.8" y="299.3" font-size="16.50" text-anchor="start" font-family="Liberation Sans, sans-serif" style="stroke:none;fill:#333">32</text>
<text transform="translate(1359.4,288.8) scale(1.030,1)" font-size="23.00" text-anchor="start" font-family="Liberation Sans, sans-serif">CST</text>
<path d="M1270.9,319.6 H1314.3" stroke="#D92600" stroke-width="4.80" stroke-dasharray="11,5.5" fill="none"/>
<text transform="translate(1318.3,326.2) scale(1.030,1)" font-size="23.00" text-anchor="start" font-family="Liberation Sans, sans-serif">S</text>
<text x="1334.8" y="336.7" font-size="16.50" text-anchor="start" font-family="Liberation Sans, sans-serif" style="stroke:none;fill:#333">32</text>
<text transform="translate(1359.4,326.2) scale(1.030,1)" font-size="23.00" text-anchor="start" font-family="Liberation Sans, sans-serif">HFSS</text>
<path d="M1264.3,356.9 H1314.3" stroke="#008000" stroke-width="4.80" fill="none"/>
<text transform="translate(1318.3,363.5) scale(1.030,1)" font-size="23.00" text-anchor="start" font-family="Liberation Sans, sans-serif">S</text>
<text x="1334.8" y="374.0" font-size="16.50" text-anchor="start" font-family="Liberation Sans, sans-serif" style="stroke:none;fill:#333">71</text>
<text transform="translate(1359.4,363.5) scale(1.030,1)" font-size="23.00" text-anchor="start" font-family="Liberation Sans, sans-serif">CST</text>
<path d="M1270.9,394.2 H1314.3" stroke="#BFBF00" stroke-width="4.80" stroke-dasharray="11,5.5" fill="none"/>
<text transform="translate(1318.3,400.9) scale(1.030,1)" font-size="23.00" text-anchor="start" font-family="Liberation Sans, sans-serif">S</text>
<text x="1334.8" y="411.4" font-size="16.50" text-anchor="start" font-family="Liberation Sans, sans-serif" style="stroke:none;fill:#333">71</text>
<text transform="translate(1359.4,400.9) scale(1.030,1)" font-size="23.00" text-anchor="start" font-family="Liberation Sans, sans-serif">HFSS</text>
<path d="M1264.3,431.6 H1314.3" stroke="#000000" stroke-width="4.80" fill="none"/>
<text transform="translate(1318.3,438.2) scale(1.030,1)" font-size="23.00" text-anchor="start" font-family="Liberation Sans, sans-serif">S</text>
<text x="1334.8" y="448.7" font-size="16.50" text-anchor="start" font-family="Liberation Sans, sans-serif" style="stroke:none;fill:#333">74</text>
<text transform="translate(1359.4,438.2) scale(1.030,1)" font-size="23.00" text-anchor="start" font-family="Liberation Sans, sans-serif">CST</text>
<path d="M1270.9,468.9 H1314.3" stroke="#808080" stroke-width="4.80" stroke-dasharray="11,5.5" fill="none"/>
<text transform="translate(1318.3,475.6) scale(1.030,1)" font-size="23.00" text-anchor="start" font-family="Liberation Sans, sans-serif">S</text>
<text x="1334.8" y="486.1" font-size="16.50" text-anchor="start" font-family="Liberation Sans, sans-serif" style="stroke:none;fill:#333">74</text>
<text transform="translate(1359.4,475.6) scale(1.030,1)" font-size="23.00" text-anchor="start" font-family="Liberation Sans, sans-serif">HFSS</text>
<text x="1281.8" y="656.3" font-size="40.00" text-anchor="middle" font-family="Liberation Serif, sans-serif" class="pl">(b)</text>
<clipPath id="cc"><rect x="509.1" y="737.0" width="759.6" height="507.3"/></clipPath>
<rect x="720.1" y="737.0" width="84.4" height="507.3" fill="#E2F7F6"/>
<rect x="1089.4" y="737.0" width="147.7" height="507.3" fill="#E2F7F6"/>
<g clip-path="url(#cc)" fill="none" stroke-width="4.80" stroke-linejoin="round">
<path d="M509.1,984.4 553.4,978.3 562.7,977.8 578.9,977.8 585.2,977.4 589.0,976.8 592.4,976.0 595.8,974.8 599.0,973.5 602.1,971.9 605.5,969.9 612.5,964.8 619.8,958.6 637.4,942.8 647.1,934.6 693.3,897.7 703.0,890.3 710.8,884.9 718.4,880.2 726.6,875.6 734.8,871.5 741.3,868.8 746.4,867.3 750.8,866.6 755.3,866.6 759.5,867.4 763.9,869.0 768.8,871.4 774.3,874.9 780.2,879.4 786.5,884.7 793.0,890.7 799.6,897.3 805.9,904.2 810.7,910.0 815.2,915.8 819.2,921.5 823.2,927.7 827.4,935.0 832.9,945.0 840.3,960.2 842.6,964.6 849.1,972.9 852.9,977.2 856.3,980.1 857.8,981.0 859.3,981.6 860.7,981.9 862.6,981.7 864.5,981.2 866.4,980.5 870.0,978.4 877.4,973.0 879.9,971.5 892.6,965.2 899.3,962.3 904.6,960.6 909.9,959.3 915.6,958.4 922.3,957.7 932.0,957.2 943.4,957.0 1003.5,956.9 1053.1,956.5 1063.0,956.7 1072.1,957.2 1077.2,958.1 1083.1,959.9 1088.6,961.8 1091.3,963.1 1093.4,964.4 1095.7,967.0 1098.7,971.6 1100.6,975.5 1102.5,980.6 1104.0,985.6 1105.0,990.6 1105.9,996.1 1106.7,1003.7 1107.8,1016.8 1108.6,1032.0 1110.7,1131.1 1111.1,1143.8 1111.3,1147.1 1111.5,1147.9 1112.0,1141.8 1112.4,1127.6 1114.3,1035.8 1114.9,1022.0 1116.2,1005.6 1117.2,995.6 1118.5,986.1 1120.0,976.6 1121.7,967.6 1123.6,959.0 1128.8,937.4 1130.5,931.8 1132.0,928.7 1134.1,926.5 1135.8,925.1 1137.3,924.5 1138.8,924.6 1140.4,925.4 1142.1,926.9 1146.8,932.7 1148.3,935.4 1149.7,938.8 1155.0,953.1 1160.3,971.4 1161.5,974.0 1162.2,974.6 1162.8,974.6 1163.7,972.6 1164.7,967.5 1170.8,927.1 1172.3,918.9 1174.2,912.1 1176.3,905.5 1178.4,899.7 1180.3,895.2 1182.6,890.8 1185.0,887.6 1187.5,885.3 1191.9,882.2 1196.3,879.6 1200.6,877.9 1204.4,877.1 1208.2,877.1 1212.4,878.0 1217.4,880.1 1221.0,881.9 1223.8,884.4 1226.3,887.4 1232.8,896.3 1245.7,911.6 1253.1,920.8 1260.5,930.8 1268.7,942.7" stroke="#0000FF"/>
<path d="M509.1,998.6 517.1,993.0 524.3,988.4 530.2,985.0 536.3,982.1 541.2,980.3 546.6,978.6 565.8,974.0 572.2,972.3 578.7,969.9 584.6,967.0 589.3,964.2 594.3,960.6 610.4,948.1 617.1,943.1 635.0,931.2 640.9,927.0 646.6,922.6 661.2,910.8 672.8,902.0 681.9,895.7 691.1,889.7 699.8,884.5 707.2,880.4 713.7,877.1 720.3,874.2 727.0,871.7 733.5,869.7 739.2,868.5 744.3,868.0 747.7,868.0 751.0,868.3 754.4,869.0 758.0,870.1 762.4,871.8 767.3,874.1 772.1,876.6 776.4,879.0 781.6,882.6 787.1,886.9 807.6,905.0 825.5,920.0 829.5,922.3 833.3,923.6 836.3,924.0 841.8,923.6 846.4,922.9 855.3,921.1 864.7,919.5 872.1,918.7 880.4,918.3 902.5,917.9 931.0,917.9 946.0,918.3 962.0,919.3 971.5,920.1 980.3,921.1 990.0,922.4 999.5,924.0 1010.5,926.3 1033.3,931.7 1048.3,934.9 1071.9,939.5 1083.1,941.3 1085.4,941.9 1086.9,942.6 1088.8,943.8 1096.4,949.6 1098.7,951.7 1100.6,954.0 1104.8,960.4 1109.0,966.1 1111.5,970.4 1113.0,973.7 1114.3,977.2 1115.3,980.9 1116.4,985.6 1118.3,1006.1 1118.7,1008.5 1118.9,1008.8 1119.4,1007.2 1119.8,1003.6 1121.5,981.1 1122.1,975.0 1122.9,970.0 1125.5,957.8 1128.0,937.8 1128.6,934.1 1129.3,932.2 1131.6,932.3 1135.0,933.1 1139.2,934.7 1141.3,936.1 1144.5,939.5 1150.4,947.2 1154.4,951.8 1160.7,959.8 1162.2,961.3 1163.7,962.4 1165.1,963.0 1166.2,963.0 1166.6,962.6 1167.2,961.5 1168.3,958.4 1171.9,942.8 1176.1,926.9 1177.8,921.2 1179.0,918.0 1184.5,910.0 1187.3,906.6 1189.8,903.8 1192.3,901.5 1194.9,899.6 1197.2,898.3 1199.5,897.4 1201.8,897.0 1203.9,897.1 1206.3,897.7 1208.8,898.8 1211.7,900.6 1215.1,903.0 1220.8,907.4 1223.8,910.1 1226.7,913.4 1230.1,917.6 1238.5,928.9 1255.2,950.4 1268.7,968.7" stroke="#00BEBE" stroke-dasharray="10.5,5.5"/>
<path d="M509.1,946.3 527.7,941.0 550.2,934.1 561.4,930.5 569.6,927.7 580.0,923.5 596.0,915.8 603.0,912.8 610.6,909.9 635.2,901.1 643.5,897.8 651.1,894.3 659.9,889.7 668.8,884.4 677.6,878.5 686.9,871.7 695.2,865.2 703.0,858.7 711.2,851.3 727.2,836.1 731.6,832.4 735.9,829.4 739.0,827.6 742.2,826.1 745.6,824.8 749.4,823.6 753.4,822.7 757.6,822.1 761.6,821.7 765.6,821.6 770.2,821.9 774.9,822.7 779.5,823.9 784.6,825.7 790.3,828.2 796.2,831.1 801.7,834.3 807.2,837.9 814.1,843.1 823.2,850.3 833.5,858.8 842.8,866.9 855.5,878.6 880.8,903.6 889.2,911.3 896.6,917.5 904.6,923.5 912.2,928.2 919.8,931.8 923.6,933.2 927.4,934.4 932.0,935.5 937.1,936.3 942.6,936.9 948.3,937.2 953.3,937.3 958.4,937.0 963.7,936.5 969.4,935.7 990.3,931.8 1017.0,927.4 1029.1,925.0 1035.6,923.5 1041.9,921.7 1068.7,912.7 1083.1,908.6 1090.5,906.9 1103.7,904.4 1109.4,903.7 1113.4,903.8 1115.6,904.3 1117.7,905.3 1119.8,906.6 1122.1,908.5 1124.6,910.9 1127.4,913.9 1131.2,918.6 1132.9,920.9 1134.5,925.1 1136.2,930.8 1141.9,955.1 1144.2,963.8 1145.5,967.4 1146.6,969.6 1147.6,970.9 1148.5,971.2 1149.1,970.9 1149.9,969.8 1151.6,965.6 1153.1,960.3 1156.9,944.7 1159.0,938.1 1162.6,930.3 1166.0,923.5 1169.1,917.8 1172.1,913.0 1175.3,908.6 1178.2,905.3 1184.1,900.1 1188.5,896.5 1191.9,894.3 1195.1,892.8 1198.0,892.1 1201.0,892.0 1204.8,892.6 1208.8,893.8 1213.2,895.7 1220.2,899.2 1222.7,900.7 1225.2,902.5 1231.2,907.8 1243.0,920.4 1247.2,925.5 1251.6,931.3 1256.5,938.2 1261.3,945.6 1264.5,951.1 1268.7,959.0" stroke="#FF0000"/>
<path d="M509.1,949.9 542.0,938.6 561.6,932.2 571.1,928.7 580.4,924.7 595.2,917.3 601.7,914.3 608.5,911.6 624.7,905.7 633.6,902.3 642.6,898.5 650.9,894.5 659.7,889.6 668.8,883.8 678.7,876.8 689.0,868.8 697.5,861.8 705.3,855.0 713.5,847.3 728.7,832.1 733.1,828.2 737.1,825.3 740.3,823.4 743.7,821.7 747.3,820.2 751.0,819.0 755.3,818.0 759.7,817.2 763.7,816.7 767.7,816.6 772.8,816.9 777.6,817.7 782.9,819.2 788.4,821.3 794.1,824.0 799.8,827.2 805.3,830.7 811.4,835.1 821.5,843.2 835.4,854.9 845.6,863.7 855.3,872.7 864.7,881.9 875.1,892.4 902.7,921.6 908.2,927.0 913.5,931.8 924.2,940.5 937.1,949.8 940.9,952.1 944.3,953.9 947.4,955.3 950.4,956.2 953.8,956.7 957.1,956.8 960.7,956.4 964.9,955.6 974.4,952.7 1003.5,943.0 1024.6,935.0 1047.4,925.4 1083.3,908.8 1096.6,901.7 1101.8,899.3 1106.1,897.9 1109.9,897.1 1112.8,897.1 1115.1,897.9 1117.5,899.5 1120.0,902.1 1122.5,905.6 1125.0,909.7 1128.4,916.1 1132.2,924.3 1133.5,927.7 1134.8,932.3 1137.5,945.2 1140.2,961.8 1141.3,972.6 1144.0,1007.9 1144.9,1014.9 1145.3,1016.8 1145.7,1017.4 1146.1,1016.9 1146.6,1015.5 1147.6,1009.2 1151.0,976.2 1152.3,966.1 1154.6,953.9 1157.1,941.9 1159.4,932.2 1162.0,922.9 1164.9,913.6 1168.7,903.4 1172.1,895.2 1174.8,889.7 1176.7,886.6 1178.6,884.5 1181.6,882.5 1185.6,880.2 1190.0,878.2 1194.0,876.9 1198.0,876.3 1202.0,876.3 1207.1,877.0 1212.6,878.5 1220.0,881.3 1222.3,882.8 1224.8,885.5 1227.6,889.4 1236.6,905.2 1239.8,910.2 1243.8,915.5 1253.7,927.9 1258.8,935.0 1263.2,942.6 1268.7,953.9" stroke="#D92600" stroke-dasharray="10.5,5.5"/>
<path d="M509.1,1032.7 511.8,1029.3 514.4,1026.8 516.7,1025.2 518.8,1024.4 520.1,1024.3 522.4,1024.4 528.1,1025.6 529.4,1026.0 532.7,1027.6 534.4,1028.1 535.5,1028.1 536.5,1027.9 538.2,1026.7 544.5,1019.2 554.9,1009.5 560.8,1003.4 565.8,997.7 573.2,988.8 589.9,967.4 597.3,958.3 603.8,950.8 623.4,929.1 649.0,898.6 657.2,889.9 661.2,886.2 665.6,882.4 674.3,875.8 684.4,868.9 696.2,861.5 705.3,856.6 712.2,853.5 719.2,851.2 727.0,849.3 735.7,847.9 744.5,847.1 752.9,847.1 761.6,848.0 770.9,849.7 781.4,852.5 793.7,856.3 804.2,860.2 821.7,867.5 829.1,870.3 838.0,873.3 847.9,876.0 874.9,882.4 915.8,892.6 930.3,895.9 940.9,897.9 953.6,900.0 978.2,903.5 989.0,904.8 994.9,905.2 1000.8,905.4 1013.7,905.1 1030.8,903.7 1037.9,902.8 1044.7,901.7 1051.9,900.3 1059.9,898.4 1079.3,893.3 1094.0,888.5 1103.7,884.3 1107.5,882.9 1111.1,882.3 1114.1,882.5 1116.0,883.1 1117.9,883.9 1122.1,886.6 1126.9,890.8 1132.9,896.8 1134.3,899.2 1136.0,902.9 1141.7,918.1 1144.0,923.6 1145.3,925.9 1146.4,927.3 1147.4,928.2 1148.3,928.5 1149.3,928.3 1150.6,927.4 1151.8,925.9 1153.1,923.8 1155.6,918.4 1161.3,904.6 1164.1,899.3 1165.8,897.2 1170.8,892.9 1175.7,889.2 1179.9,886.5 1183.9,884.4 1187.5,883.1 1190.7,882.4 1193.8,882.3 1198.5,882.6 1203.9,883.4 1207.7,884.1 1210.9,885.3 1214.5,887.5 1218.7,890.7 1230.9,901.9 1240.9,910.5 1249.1,918.0 1258.8,927.4 1268.7,937.7" stroke="#008000"/>
<path d="M509.1,1029.1 514.8,1025.8 519.2,1023.8 523.4,1022.4 534.4,1019.5 538.4,1017.9 542.4,1016.0 546.0,1014.0 549.6,1011.5 564.6,1000.0 572.6,993.1 578.9,986.6 584.2,980.3 596.0,964.7 602.1,957.2 607.4,951.4 620.5,938.3 627.6,930.7 635.5,921.7 651.7,901.7 656.8,896.2 661.8,891.4 668.4,885.8 684.4,873.0 698.9,861.1 703.8,857.4 707.8,854.7 713.3,851.7 719.2,849.4 725.9,847.7 734.2,846.3 745.6,845.0 754.8,844.4 761.6,844.6 767.9,845.4 773.2,846.7 779.3,848.6 818.3,863.0 833.9,868.4 851.9,874.1 864.7,877.4 871.3,878.8 878.0,879.9 899.6,882.4 907.4,883.6 914.5,885.0 930.6,888.7 941.3,890.6 980.3,895.4 994.1,896.6 1006.1,897.0 1018.1,896.8 1025.3,896.2 1032.0,894.9 1039.8,892.7 1051.0,888.8 1071.9,880.9 1087.7,874.5 1101.6,869.6 1105.2,868.5 1108.4,867.9 1111.3,867.6 1113.4,867.7 1115.3,868.2 1117.2,869.1 1119.4,870.4 1121.5,872.1 1126.3,876.9 1132.6,884.4 1133.9,886.7 1135.4,890.2 1140.4,904.9 1142.6,910.3 1144.5,913.6 1145.5,914.6 1146.4,914.8 1147.4,914.5 1148.7,913.5 1149.9,911.8 1151.2,909.5 1153.7,903.8 1159.0,889.7 1161.3,884.0 1163.7,879.6 1164.7,878.1 1165.8,877.1 1171.2,873.8 1176.3,871.2 1181.2,869.2 1185.8,867.9 1189.4,867.3 1192.8,867.1 1200.4,867.2 1207.7,867.7 1210.5,868.3 1213.2,869.4 1216.2,870.9 1219.3,872.9 1223.8,876.2 1235.2,885.1 1241.3,890.5 1248.7,898.1 1256.0,906.7 1261.9,914.9 1268.7,925.5" stroke="#BFBF00" stroke-dasharray="10.5,5.5"/>
<path d="M509.1,968.1 524.3,961.3 537.6,955.7 545.6,952.6 564.6,945.8 572.8,942.4 581.2,938.2 597.1,928.9 604.9,925.1 617.5,920.4 632.9,915.2 640.7,913.2 648.7,911.8 658.0,910.8 667.7,910.2 675.3,910.2 682.5,910.6 693.9,912.2 698.9,913.2 703.2,914.8 706.5,916.8 712.2,921.4 716.0,925.2 722.2,932.6 726.6,938.7 730.0,944.4 732.7,950.4 735.0,956.9 736.9,963.4 738.8,971.5 740.7,981.0 744.5,1003.0 748.1,1034.6 748.7,1037.9 749.4,1039.3 749.8,1038.9 750.2,1037.6 751.3,1031.0 757.4,974.4 758.2,967.9 759.1,963.5 760.8,959.1 763.1,954.1 765.4,950.1 767.7,946.8 770.2,944.0 772.8,941.9 775.3,940.3 778.9,938.7 785.2,936.4 790.7,935.1 795.3,934.6 801.7,934.9 804.6,935.2 809.7,936.2 850.2,944.5 860.3,946.4 872.3,947.9 886.9,948.7 901.7,948.9 915.2,948.5 932.9,946.9 949.1,944.9 967.9,941.6 987.7,937.1 1013.7,930.4 1023.2,927.6 1031.2,925.0 1040.5,921.4 1050.4,917.0 1071.0,907.1 1093.0,897.0 1095.7,895.4 1101.6,891.4 1104.0,890.1 1106.3,889.2 1108.4,888.9 1110.9,889.2 1113.7,890.0 1116.6,891.4 1120.2,893.5 1121.7,894.5 1123.2,895.9 1126.3,900.2 1129.9,906.4 1133.3,913.2 1135.4,919.4 1139.6,934.3 1141.5,940.3 1143.4,944.7 1144.2,945.9 1145.1,946.7 1145.9,946.8 1147.0,946.2 1148.0,944.8 1149.1,942.9 1151.2,937.6 1156.1,923.5 1157.5,920.1 1158.8,917.9 1164.5,911.4 1168.5,907.8 1170.4,906.6 1172.1,905.9 1173.8,905.7 1175.5,905.8 1178.6,906.8 1182.0,908.8 1185.4,911.4 1194.2,919.0 1197.0,921.0 1199.3,922.2 1205.2,924.6 1210.9,926.4 1215.1,927.4 1224.2,928.9 1226.9,929.6 1228.2,930.3 1229.9,931.6 1231.8,933.6 1239.8,943.8 1247.6,952.3 1251.4,956.0 1255.4,959.3 1260.5,962.8 1264.7,965.3 1268.7,967.1" stroke="#000000"/>
<path d="M509.1,982.9 538.0,968.1 563.1,955.8 572.2,951.2 582.1,945.5 604.2,931.8 611.2,927.9 617.9,924.4 627.2,920.3 636.7,916.9 646.4,914.0 656.8,911.7 667.9,909.9 679.5,908.5 688.6,908.0 696.4,908.3 704.6,909.5 713.1,911.6 721.7,914.7 735.7,920.7 740.7,922.7 746.6,924.4 752.5,925.5 759.7,925.9 775.1,925.2 782.9,925.5 790.5,926.6 806.3,929.9 814.3,931.2 824.9,932.4 836.3,933.2 846.0,933.4 856.7,933.2 870.7,932.4 884.2,931.3 892.4,930.3 900.6,929.1 934.8,923.2 960.1,919.9 967.1,918.5 973.8,916.8 981.6,914.3 1000.2,907.7 1023.6,899.8 1034.8,895.9 1046.2,891.5 1059.2,886.2 1072.7,880.4 1085.0,874.8 1090.5,872.5 1104.6,867.3 1108.4,866.4 1111.8,866.0 1113.9,866.3 1116.2,867.4 1118.5,869.2 1121.0,872.0 1123.6,875.3 1126.3,879.6 1129.3,884.8 1132.4,891.0 1133.5,894.2 1134.8,899.7 1140.0,928.4 1141.5,933.8 1142.1,935.2 1142.8,936.0 1143.4,936.1 1144.0,935.7 1144.7,934.8 1145.5,933.1 1147.0,928.8 1150.4,916.8 1151.8,912.2 1159.6,893.3 1162.8,886.6 1165.1,882.8 1166.4,881.3 1167.4,880.4 1168.5,879.9 1169.3,879.8 1172.5,880.3 1174.4,881.0 1176.3,882.0 1180.5,885.1 1184.7,888.9 1194.0,898.1 1195.9,900.5 1198.0,903.5 1206.9,917.5 1208.8,920.0 1210.7,922.2 1212.2,923.5 1213.6,924.4 1219.3,926.7 1222.3,928.4 1226.3,931.3 1230.7,935.1 1236.0,940.4 1245.3,952.0 1251.0,958.2 1260.3,967.6 1268.7,975.3" stroke="#808080" stroke-dasharray="10.5,5.5"/>
</g>
<g stroke="#2a2a2a" stroke-width="1.2" fill="none"><path d="M509.1,737.0 H1268.7 M509.1,1244.3 H1268.7 M509.1,736.4 V1244.9"/><path d="M1268.7,736.4 V1244.9" stroke="#111" stroke-width="1.8"/><path d="M509.1,1244.3 v-7 M509.1,737.0 v7"/><path d="M593.5,1244.3 v-7 M593.5,737.0 v7"/><path d="M677.9,1244.3 v-7 M677.9,737.0 v7"/><path d="M762.3,1244.3 v-7 M762.3,737.0 v7"/><path d="M846.7,1244.3 v-7 M846.7,737.0 v7"/><path d="M931.1,1244.3 v-7 M931.1,737.0 v7"/><path d="M1015.5,1244.3 v-7 M1015.5,737.0 v7"/><path d="M1099.9,1244.3 v-7 M1099.9,737.0 v7"/><path d="M1184.3,1244.3 v-7 M1184.3,737.0 v7"/><path d="M1268.7,1244.3 v-7 M1268.7,737.0 v7"/><path d="M509.1,736.5 h7 M1268.7,736.5 h-7"/><path d="M509.1,838.1 h7 M1268.7,838.1 h-7"/><path d="M509.1,939.7 h7 M1268.7,939.7 h-7"/><path d="M509.1,1041.3 h7 M1268.7,1041.3 h-7"/><path d="M509.1,1142.9 h7 M1268.7,1142.9 h-7"/><path d="M509.1,1244.5 h7 M1268.7,1244.5 h-7"/></g>
<rect x="882.0" y="975.0" width="174.4" height="275.0" fill="#fff"/>
<text x="509.1" y="1276.9" font-size="33.50" text-anchor="middle" font-family="Liberation Sans, sans-serif">2.4</text>
<text x="593.5" y="1276.9" font-size="33.50" text-anchor="middle" font-family="Liberation Sans, sans-serif">2.8</text>
<text x="677.9" y="1276.9" font-size="33.50" text-anchor="middle" font-family="Liberation Sans, sans-serif">3.2</text>
<text x="762.3" y="1276.9" font-size="33.50" text-anchor="middle" font-family="Liberation Sans, sans-serif">3.6</text>
<text x="846.7" y="1276.9" font-size="33.50" text-anchor="middle" font-family="Liberation Sans, sans-serif">4</text>
<text x="931.1" y="1276.9" font-size="33.50" text-anchor="middle" font-family="Liberation Sans, sans-serif">4.4</text>
<text x="1015.5" y="1276.9" font-size="33.50" text-anchor="middle" font-family="Liberation Sans, sans-serif">4.8</text>
<text x="1099.9" y="1276.9" font-size="33.50" text-anchor="middle" font-family="Liberation Sans, sans-serif">5.2</text>
<text x="1184.3" y="1276.9" font-size="33.50" text-anchor="middle" font-family="Liberation Sans, sans-serif">5.6</text>
<text x="1268.7" y="1276.9" font-size="33.50" text-anchor="middle" font-family="Liberation Sans, sans-serif">6</text>
<text x="505.3" y="748.3" font-size="33.50" text-anchor="end" font-family="Liberation Sans, sans-serif">0</text>
<text x="505.3" y="849.9" font-size="33.50" text-anchor="end" font-family="Liberation Sans, sans-serif">-20</text>
<text x="505.3" y="951.5" font-size="33.50" text-anchor="end" font-family="Liberation Sans, sans-serif">-40</text>
<text x="505.3" y="1053.1" font-size="33.50" text-anchor="end" font-family="Liberation Sans, sans-serif">-60</text>
<text x="505.3" y="1154.7" font-size="33.50" text-anchor="end" font-family="Liberation Sans, sans-serif">-80</text>
<text x="505.3" y="1256.3" font-size="33.50" text-anchor="end" font-family="Liberation Sans, sans-serif">-100</text>
<text x="759.3" y="1308.6" font-size="33.00" font-family="Liberation Sans, sans-serif" textLength="255.2" lengthAdjust="spacingAndGlyphs">Frequency (GHz)</text>
<g transform="translate(410.0,1051.8) rotate(-90)"><text x="0" y="0" font-size="31.50" font-family="Liberation Sans, sans-serif">|S<tspan font-size="23.00" dy="17.0">ij</tspan><tspan dy="-17.0">|</tspan><tspan dx="0.3"> (dB)</tspan></text></g>
<path d="M890.7,988.8 H940.7" stroke="#0000FF" stroke-width="4.80" fill="none"/>
<text transform="translate(945.4,994.3) scale(1.060,1)" font-size="19.50" text-anchor="start" font-family="Liberation Sans, sans-serif">S</text>
<text x="959.2" y="1003.6" font-size="15.00" text-anchor="start" font-family="Liberation Sans, sans-serif" style="stroke:none;fill:#333">41</text>
<text transform="translate(982.5,994.3) scale(1.060,1)" font-size="19.50" text-anchor="start" font-family="Liberation Sans, sans-serif">CST</text>
<path d="M897.3,1022.6 H940.7" stroke="#00BEBE" stroke-width="4.80" stroke-dasharray="11,5" fill="none"/>
<text transform="translate(945.4,1028.1) scale(1.060,1)" font-size="19.50" text-anchor="start" font-family="Liberation Sans, sans-serif">S</text>
<text x="959.2" y="1037.4" font-size="15.00" text-anchor="start" font-family="Liberation Sans, sans-serif" style="stroke:none;fill:#333">41</text>
<text transform="translate(982.5,1028.1) scale(1.060,1)" font-size="19.50" text-anchor="start" font-family="Liberation Sans, sans-serif">HFSS</text>
<path d="M890.7,1056.3 H940.7" stroke="#FF0000" stroke-width="4.80" fill="none"/>
<text transform="translate(945.4,1061.8) scale(1.060,1)" font-size="19.50" text-anchor="start" font-family="Liberation Sans, sans-serif">S</text>
<text x="959.2" y="1071.1" font-size="15.00" text-anchor="start" font-family="Liberation Sans, sans-serif" style="stroke:none;fill:#333">52</text>
<text transform="translate(982.5,1061.8) scale(1.060,1)" font-size="19.50" text-anchor="start" font-family="Liberation Sans, sans-serif">CST</text>
<path d="M897.3,1090.1 H940.7" stroke="#D92600" stroke-width="4.80" stroke-dasharray="11,5" fill="none"/>
<text transform="translate(945.4,1095.6) scale(1.060,1)" font-size="19.50" text-anchor="start" font-family="Liberation Sans, sans-serif">S</text>
<text x="959.2" y="1104.9" font-size="15.00" text-anchor="start" font-family="Liberation Sans, sans-serif" style="stroke:none;fill:#333">52</text>
<text transform="translate(982.5,1095.6) scale(1.060,1)" font-size="19.50" text-anchor="start" font-family="Liberation Sans, sans-serif">HFSS</text>
<path d="M890.7,1123.9 H940.7" stroke="#008000" stroke-width="4.80" fill="none"/>
<text transform="translate(945.4,1129.4) scale(1.060,1)" font-size="19.50" text-anchor="start" font-family="Liberation Sans, sans-serif">S</text>
<text x="959.2" y="1138.7" font-size="15.00" text-anchor="start" font-family="Liberation Sans, sans-serif" style="stroke:none;fill:#333">51</text>
<text transform="translate(982.5,1129.4) scale(1.060,1)" font-size="19.50" text-anchor="start" font-family="Liberation Sans, sans-serif">CST</text>
<path d="M897.3,1157.7 H940.7" stroke="#BFBF00" stroke-width="4.80" stroke-dasharray="11,5" fill="none"/>
<text transform="translate(945.4,1163.2) scale(1.060,1)" font-size="19.50" text-anchor="start" font-family="Liberation Sans, sans-serif">S</text>
<text x="959.2" y="1172.5" font-size="15.00" text-anchor="start" font-family="Liberation Sans, sans-serif" style="stroke:none;fill:#333">51</text>
<text transform="translate(982.5,1163.2) scale(1.060,1)" font-size="19.50" text-anchor="start" font-family="Liberation Sans, sans-serif">HFSS</text>
<path d="M890.7,1191.4 H940.7" stroke="#000000" stroke-width="4.80" fill="none"/>
<text transform="translate(945.4,1196.9) scale(1.060,1)" font-size="19.50" text-anchor="start" font-family="Liberation Sans, sans-serif">S</text>
<text x="959.2" y="1206.2" font-size="15.00" text-anchor="start" font-family="Liberation Sans, sans-serif" style="stroke:none;fill:#333">73</text>
<text transform="translate(982.5,1196.9) scale(1.060,1)" font-size="19.50" text-anchor="start" font-family="Liberation Sans, sans-serif">CST</text>
<path d="M897.3,1225.2 H940.7" stroke="#808080" stroke-width="4.80" stroke-dasharray="11,5" fill="none"/>
<text transform="translate(945.4,1230.7) scale(1.060,1)" font-size="19.50" text-anchor="start" font-family="Liberation Sans, sans-serif">S</text>
<text x="959.2" y="1240.0" font-size="15.00" text-anchor="start" font-family="Liberation Sans, sans-serif" style="stroke:none;fill:#333">73</text>
<text transform="translate(982.5,1230.7) scale(1.060,1)" font-size="19.50" text-anchor="start" font-family="Liberation Sans, sans-serif">HFSS</text>
<text x="898.1" y="1398.0" font-size="40.00" text-anchor="middle" font-family="Liberation Serif, sans-serif" class="pl">(c)</text>
</svg></body></html>
